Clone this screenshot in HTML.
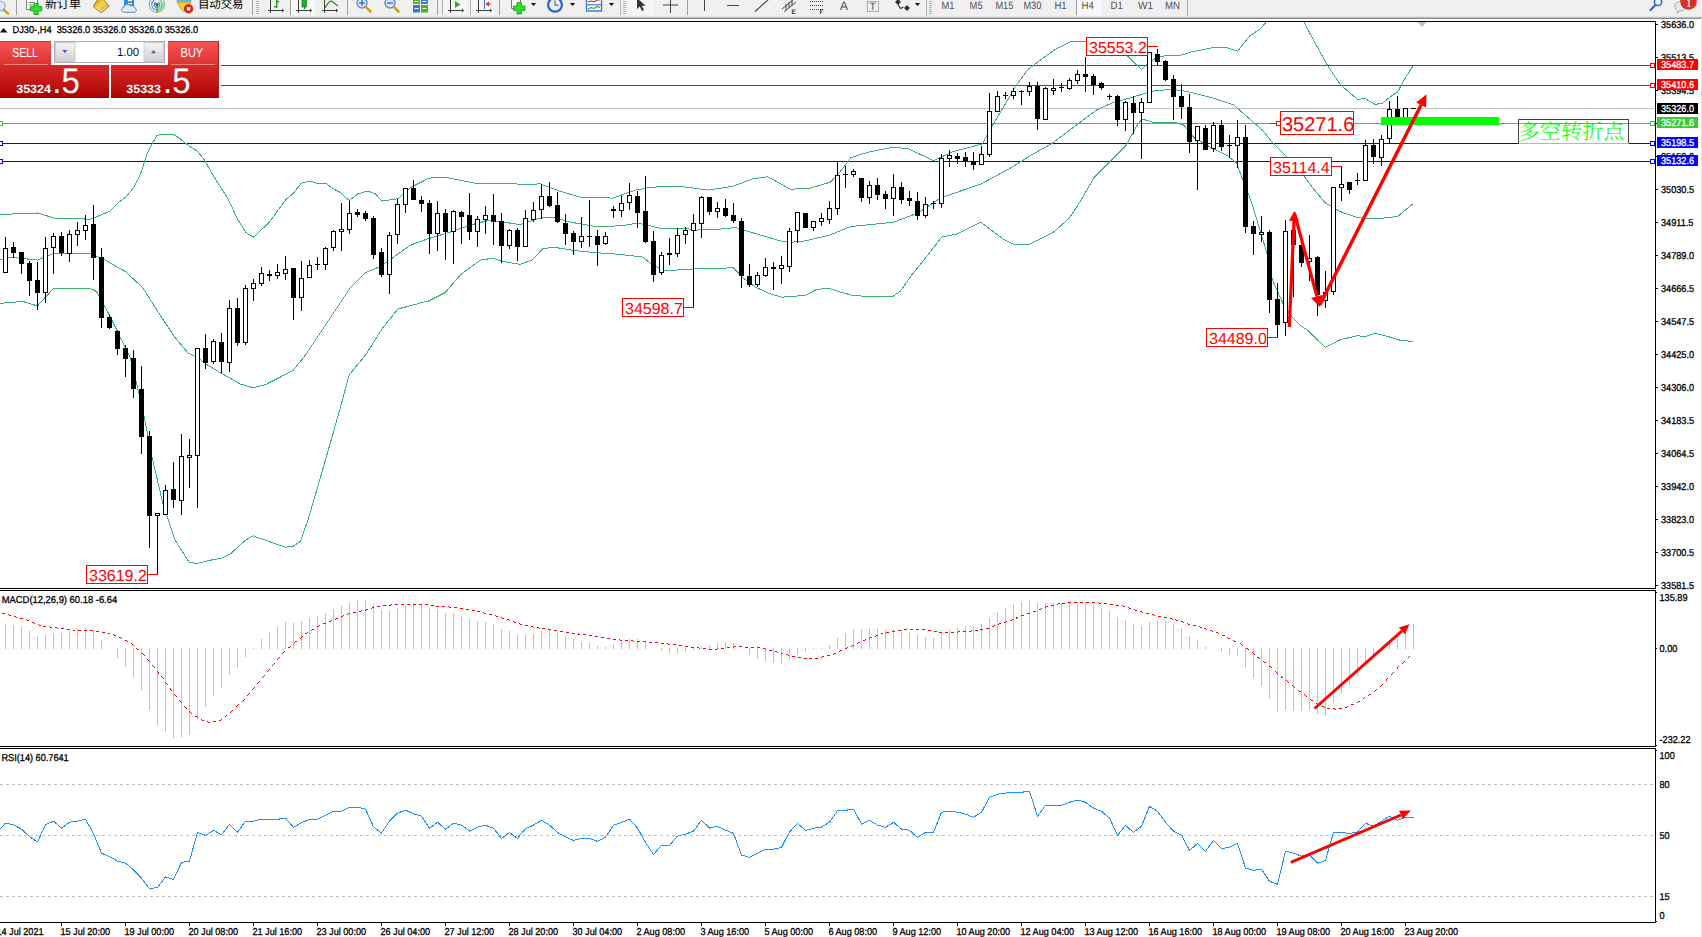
<!DOCTYPE html>
<html><head><meta charset="utf-8"><title>DJ30 H4</title>
<style>
html,body{margin:0;padding:0;background:#fff;}
body{width:1702px;height:937px;overflow:hidden;position:relative;font-family:"Liberation Sans", sans-serif;}
svg{position:absolute;left:0;top:0;}
svg text{font-family:"Liberation Sans", sans-serif;text-rendering:geometricPrecision;}
</style></head><body>
<svg width="1702" height="937" viewBox="0 0 1702 937" shape-rendering="crispEdges">
<defs><clipPath id="cmain"><rect x="0" y="22" width="1655" height="566"/></clipPath></defs>
<rect x="0" y="21" width="1656" height="1" fill="#000"/>
<rect x="1655" y="21" width="1" height="568" fill="#000"/>
<rect x="0" y="588" width="1656" height="1" fill="#000"/>
<rect x="0" y="590" width="1656" height="1" fill="#000"/>
<rect x="1655" y="590" width="1" height="157" fill="#000"/>
<rect x="0" y="746" width="1656" height="1" fill="#000"/>
<rect x="0" y="748" width="1656" height="1" fill="#000"/>
<rect x="1655" y="748" width="1" height="175" fill="#000"/>
<rect x="0" y="922" width="1656" height="1" fill="#000"/>
<rect x="0" y="108" width="1655" height="1" fill="#c0c0c0"/>
<rect x="0" y="65" width="1651" height="1" fill="#ff0000"/>
<rect x="0" y="85" width="1651" height="1" fill="#ff0000"/>
<rect x="0" y="123" width="1651" height="1" fill="#32cd32"/>
<rect x="0" y="143" width="1651" height="1" fill="#0000ff"/>
<rect x="0" y="161" width="1651" height="1" fill="#0000ff"/>
<line x1="0" y1="784.5" x2="1655" y2="784.5" stroke="#c0c0c0" stroke-width="1" stroke-dasharray="3 3"/>
<line x1="0" y1="835.5" x2="1655" y2="835.5" stroke="#c0c0c0" stroke-width="1" stroke-dasharray="3 3"/>
<line x1="0" y1="896.5" x2="1655" y2="896.5" stroke="#c0c0c0" stroke-width="1" stroke-dasharray="3 3"/>
<rect x="5" y="624" width="1" height="25" fill="#c0c0c0"/>
<rect x="13" y="625" width="1" height="24" fill="#c0c0c0"/>
<rect x="21" y="627" width="1" height="22" fill="#c0c0c0"/>
<rect x="29" y="631" width="1" height="18" fill="#c0c0c0"/>
<rect x="37" y="636" width="1" height="13" fill="#c0c0c0"/>
<rect x="45" y="635" width="1" height="14" fill="#c0c0c0"/>
<rect x="53" y="633" width="1" height="16" fill="#c0c0c0"/>
<rect x="61" y="633" width="1" height="16" fill="#c0c0c0"/>
<rect x="69" y="631" width="1" height="18" fill="#c0c0c0"/>
<rect x="77" y="629" width="1" height="20" fill="#c0c0c0"/>
<rect x="85" y="628" width="1" height="21" fill="#c0c0c0"/>
<rect x="93" y="631" width="1" height="18" fill="#c0c0c0"/>
<rect x="101" y="640" width="1" height="9" fill="#c0c0c0"/>
<rect x="117" y="648" width="1" height="10" fill="#c0c0c0"/>
<rect x="125" y="648" width="1" height="19" fill="#c0c0c0"/>
<rect x="133" y="648" width="1" height="29" fill="#c0c0c0"/>
<rect x="141" y="648" width="1" height="42" fill="#c0c0c0"/>
<rect x="149" y="648" width="1" height="62" fill="#c0c0c0"/>
<rect x="157" y="648" width="1" height="77" fill="#c0c0c0"/>
<rect x="165" y="648" width="1" height="84" fill="#c0c0c0"/>
<rect x="173" y="648" width="1" height="90" fill="#c0c0c0"/>
<rect x="181" y="648" width="1" height="89" fill="#c0c0c0"/>
<rect x="189" y="648" width="1" height="87" fill="#c0c0c0"/>
<rect x="197" y="648" width="1" height="71" fill="#c0c0c0"/>
<rect x="205" y="648" width="1" height="59" fill="#c0c0c0"/>
<rect x="213" y="648" width="1" height="48" fill="#c0c0c0"/>
<rect x="221" y="648" width="1" height="40" fill="#c0c0c0"/>
<rect x="229" y="648" width="1" height="27" fill="#c0c0c0"/>
<rect x="237" y="648" width="1" height="20" fill="#c0c0c0"/>
<rect x="245" y="648" width="1" height="9" fill="#c0c0c0"/>
<rect x="253" y="648" width="1" height="1" fill="#c0c0c0"/>
<rect x="261" y="639" width="1" height="10" fill="#c0c0c0"/>
<rect x="269" y="632" width="1" height="17" fill="#c0c0c0"/>
<rect x="277" y="627" width="1" height="22" fill="#c0c0c0"/>
<rect x="285" y="622" width="1" height="27" fill="#c0c0c0"/>
<rect x="293" y="623" width="1" height="26" fill="#c0c0c0"/>
<rect x="301" y="621" width="1" height="28" fill="#c0c0c0"/>
<rect x="309" y="618" width="1" height="31" fill="#c0c0c0"/>
<rect x="317" y="616" width="1" height="33" fill="#c0c0c0"/>
<rect x="325" y="613" width="1" height="36" fill="#c0c0c0"/>
<rect x="333" y="609" width="1" height="40" fill="#c0c0c0"/>
<rect x="341" y="606" width="1" height="43" fill="#c0c0c0"/>
<rect x="349" y="603" width="1" height="46" fill="#c0c0c0"/>
<rect x="357" y="600" width="1" height="49" fill="#c0c0c0"/>
<rect x="365" y="600" width="1" height="49" fill="#c0c0c0"/>
<rect x="373" y="604" width="1" height="45" fill="#c0c0c0"/>
<rect x="381" y="610" width="1" height="39" fill="#c0c0c0"/>
<rect x="389" y="611" width="1" height="38" fill="#c0c0c0"/>
<rect x="397" y="608" width="1" height="41" fill="#c0c0c0"/>
<rect x="405" y="605" width="1" height="44" fill="#c0c0c0"/>
<rect x="413" y="603" width="1" height="46" fill="#c0c0c0"/>
<rect x="421" y="604" width="1" height="45" fill="#c0c0c0"/>
<rect x="429" y="608" width="1" height="41" fill="#c0c0c0"/>
<rect x="437" y="609" width="1" height="40" fill="#c0c0c0"/>
<rect x="445" y="613" width="1" height="36" fill="#c0c0c0"/>
<rect x="453" y="613" width="1" height="36" fill="#c0c0c0"/>
<rect x="461" y="616" width="1" height="33" fill="#c0c0c0"/>
<rect x="469" y="619" width="1" height="30" fill="#c0c0c0"/>
<rect x="477" y="621" width="1" height="28" fill="#c0c0c0"/>
<rect x="485" y="622" width="1" height="27" fill="#c0c0c0"/>
<rect x="493" y="624" width="1" height="25" fill="#c0c0c0"/>
<rect x="501" y="629" width="1" height="20" fill="#c0c0c0"/>
<rect x="509" y="631" width="1" height="18" fill="#c0c0c0"/>
<rect x="517" y="635" width="1" height="14" fill="#c0c0c0"/>
<rect x="525" y="635" width="1" height="14" fill="#c0c0c0"/>
<rect x="533" y="634" width="1" height="15" fill="#c0c0c0"/>
<rect x="541" y="631" width="1" height="18" fill="#c0c0c0"/>
<rect x="549" y="630" width="1" height="19" fill="#c0c0c0"/>
<rect x="557" y="632" width="1" height="17" fill="#c0c0c0"/>
<rect x="565" y="636" width="1" height="13" fill="#c0c0c0"/>
<rect x="573" y="639" width="1" height="10" fill="#c0c0c0"/>
<rect x="581" y="642" width="1" height="7" fill="#c0c0c0"/>
<rect x="589" y="643" width="1" height="6" fill="#c0c0c0"/>
<rect x="597" y="646" width="1" height="3" fill="#c0c0c0"/>
<rect x="605" y="647" width="1" height="2" fill="#c0c0c0"/>
<rect x="613" y="644" width="1" height="5" fill="#c0c0c0"/>
<rect x="621" y="642" width="1" height="7" fill="#c0c0c0"/>
<rect x="629" y="639" width="1" height="10" fill="#c0c0c0"/>
<rect x="637" y="639" width="1" height="10" fill="#c0c0c0"/>
<rect x="645" y="642" width="1" height="7" fill="#c0c0c0"/>
<rect x="661" y="648" width="1" height="3" fill="#c0c0c0"/>
<rect x="669" y="648" width="1" height="5" fill="#c0c0c0"/>
<rect x="677" y="648" width="1" height="5" fill="#c0c0c0"/>
<rect x="685" y="648" width="1" height="4" fill="#c0c0c0"/>
<rect x="693" y="648" width="1" height="2" fill="#c0c0c0"/>
<rect x="701" y="646" width="1" height="3" fill="#c0c0c0"/>
<rect x="709" y="645" width="1" height="4" fill="#c0c0c0"/>
<rect x="717" y="643" width="1" height="6" fill="#c0c0c0"/>
<rect x="725" y="642" width="1" height="7" fill="#c0c0c0"/>
<rect x="733" y="643" width="1" height="6" fill="#c0c0c0"/>
<rect x="749" y="648" width="1" height="7" fill="#c0c0c0"/>
<rect x="757" y="648" width="1" height="11" fill="#c0c0c0"/>
<rect x="765" y="648" width="1" height="13" fill="#c0c0c0"/>
<rect x="773" y="648" width="1" height="15" fill="#c0c0c0"/>
<rect x="781" y="648" width="1" height="16" fill="#c0c0c0"/>
<rect x="789" y="648" width="1" height="12" fill="#c0c0c0"/>
<rect x="797" y="648" width="1" height="7" fill="#c0c0c0"/>
<rect x="805" y="648" width="1" height="4" fill="#c0c0c0"/>
<rect x="813" y="648" width="1" height="1" fill="#c0c0c0"/>
<rect x="821" y="648" width="1" height="1" fill="#c0c0c0"/>
<rect x="829" y="645" width="1" height="4" fill="#c0c0c0"/>
<rect x="837" y="638" width="1" height="11" fill="#c0c0c0"/>
<rect x="845" y="633" width="1" height="16" fill="#c0c0c0"/>
<rect x="853" y="629" width="1" height="20" fill="#c0c0c0"/>
<rect x="861" y="629" width="1" height="20" fill="#c0c0c0"/>
<rect x="869" y="628" width="1" height="21" fill="#c0c0c0"/>
<rect x="877" y="628" width="1" height="21" fill="#c0c0c0"/>
<rect x="885" y="630" width="1" height="19" fill="#c0c0c0"/>
<rect x="893" y="629" width="1" height="20" fill="#c0c0c0"/>
<rect x="901" y="630" width="1" height="19" fill="#c0c0c0"/>
<rect x="909" y="632" width="1" height="17" fill="#c0c0c0"/>
<rect x="917" y="635" width="1" height="14" fill="#c0c0c0"/>
<rect x="925" y="637" width="1" height="12" fill="#c0c0c0"/>
<rect x="933" y="638" width="1" height="11" fill="#c0c0c0"/>
<rect x="941" y="633" width="1" height="16" fill="#c0c0c0"/>
<rect x="949" y="630" width="1" height="19" fill="#c0c0c0"/>
<rect x="957" y="627" width="1" height="22" fill="#c0c0c0"/>
<rect x="965" y="626" width="1" height="23" fill="#c0c0c0"/>
<rect x="973" y="626" width="1" height="23" fill="#c0c0c0"/>
<rect x="981" y="624" width="1" height="25" fill="#c0c0c0"/>
<rect x="989" y="618" width="1" height="31" fill="#c0c0c0"/>
<rect x="997" y="612" width="1" height="37" fill="#c0c0c0"/>
<rect x="1005" y="608" width="1" height="41" fill="#c0c0c0"/>
<rect x="1013" y="604" width="1" height="45" fill="#c0c0c0"/>
<rect x="1021" y="602" width="1" height="47" fill="#c0c0c0"/>
<rect x="1029" y="600" width="1" height="49" fill="#c0c0c0"/>
<rect x="1037" y="603" width="1" height="46" fill="#c0c0c0"/>
<rect x="1045" y="603" width="1" height="46" fill="#c0c0c0"/>
<rect x="1053" y="603" width="1" height="46" fill="#c0c0c0"/>
<rect x="1061" y="603" width="1" height="46" fill="#c0c0c0"/>
<rect x="1069" y="602" width="1" height="47" fill="#c0c0c0"/>
<rect x="1077" y="602" width="1" height="47" fill="#c0c0c0"/>
<rect x="1085" y="602" width="1" height="47" fill="#c0c0c0"/>
<rect x="1093" y="605" width="1" height="44" fill="#c0c0c0"/>
<rect x="1101" y="608" width="1" height="41" fill="#c0c0c0"/>
<rect x="1109" y="611" width="1" height="38" fill="#c0c0c0"/>
<rect x="1117" y="617" width="1" height="32" fill="#c0c0c0"/>
<rect x="1125" y="620" width="1" height="29" fill="#c0c0c0"/>
<rect x="1133" y="624" width="1" height="25" fill="#c0c0c0"/>
<rect x="1141" y="626" width="1" height="23" fill="#c0c0c0"/>
<rect x="1149" y="622" width="1" height="27" fill="#c0c0c0"/>
<rect x="1157" y="620" width="1" height="29" fill="#c0c0c0"/>
<rect x="1165" y="621" width="1" height="28" fill="#c0c0c0"/>
<rect x="1173" y="624" width="1" height="25" fill="#c0c0c0"/>
<rect x="1181" y="628" width="1" height="21" fill="#c0c0c0"/>
<rect x="1189" y="636" width="1" height="13" fill="#c0c0c0"/>
<rect x="1197" y="640" width="1" height="9" fill="#c0c0c0"/>
<rect x="1205" y="647" width="1" height="2" fill="#c0c0c0"/>
<rect x="1221" y="648" width="1" height="4" fill="#c0c0c0"/>
<rect x="1229" y="648" width="1" height="7" fill="#c0c0c0"/>
<rect x="1237" y="648" width="1" height="8" fill="#c0c0c0"/>
<rect x="1245" y="648" width="1" height="20" fill="#c0c0c0"/>
<rect x="1253" y="648" width="1" height="30" fill="#c0c0c0"/>
<rect x="1261" y="648" width="1" height="38" fill="#c0c0c0"/>
<rect x="1269" y="648" width="1" height="51" fill="#c0c0c0"/>
<rect x="1277" y="648" width="1" height="64" fill="#c0c0c0"/>
<rect x="1285" y="648" width="1" height="62" fill="#c0c0c0"/>
<rect x="1293" y="648" width="1" height="63" fill="#c0c0c0"/>
<rect x="1301" y="648" width="1" height="63" fill="#c0c0c0"/>
<rect x="1309" y="648" width="1" height="62" fill="#c0c0c0"/>
<rect x="1317" y="648" width="1" height="66" fill="#c0c0c0"/>
<rect x="1325" y="648" width="1" height="68" fill="#c0c0c0"/>
<rect x="1333" y="648" width="1" height="55" fill="#c0c0c0"/>
<rect x="1341" y="648" width="1" height="45" fill="#c0c0c0"/>
<rect x="1349" y="648" width="1" height="37" fill="#c0c0c0"/>
<rect x="1357" y="648" width="1" height="28" fill="#c0c0c0"/>
<rect x="1365" y="648" width="1" height="16" fill="#c0c0c0"/>
<rect x="1373" y="648" width="1" height="8" fill="#c0c0c0"/>
<rect x="1389" y="640" width="1" height="9" fill="#c0c0c0"/>
<rect x="1397" y="633" width="1" height="16" fill="#c0c0c0"/>
<rect x="1405" y="628" width="1" height="21" fill="#c0c0c0"/>
<rect x="1413" y="624" width="1" height="25" fill="#c0c0c0"/>
<g clip-path="url(#cmain)">
<polyline points="0.0,214.5 37.5,213.0 57.6,219.0 82.6,218.8 90.0,219.6 109.6,211.3 118.6,202.3 126.1,197.0 134.4,186.5 141.9,170.7 144.9,160.2 147.9,151.9 151.7,144.4 156.9,135.5 162.2,134.4 173.5,134.4 180.2,138.8 189.3,146.3 197.5,151.1 205.1,160.9 210.3,170.7 216.3,180.5 228.4,199.3 237.4,218.8 245.7,232.4 253.5,237.2 269.0,222.6 285.5,200.0 293.1,193.6 301.3,183.2 309.6,181.2 317.1,183.2 326.1,183.5 333.7,189.0 340.4,192.5 346.0,197.8 349.4,200.5 357.9,193.8 367.9,191.0 375.4,193.8 381.7,201.0 398.0,198.8 410.5,187.5 423.0,181.3 427.5,178.8 435.0,177.1 445.0,177.1 477.6,183.8 500.1,183.1 527.6,184.6 540.1,183.8 560.2,191.3 580.2,197.1 612.7,198.1 622.7,194.6 635.3,190.1 652.8,187.1 680.3,186.3 707.8,190.1 732.9,186.3 752.9,178.8 767.9,176.8 790.4,189.3 810.5,188.1 830.5,182.1 840.5,171.3 851.0,157.6 868.5,152.1 893.6,147.1 908.6,148.9 933.6,160.7 941.1,157.1 953.6,151.4 971.2,146.9 982.4,143.9 991.2,127.6 1006.2,102.6 1016.2,85.1 1028.7,68.8 1043.7,57.5 1056.3,48.8 1071.3,41.3 1086.3,41.3 1111.3,42.0 1126.3,55.0 1141.4,69.5 1148.9,62.5 1158.9,56.3 1181.4,55.0 1191.4,52.0 1211.4,48.0 1226.5,47.5 1237.7,51.3 1240.0,48.0 1250.0,35.5 1260.0,29.3 1266.3,21.8 1275.0,13.0 1285.1,8.0 1295.1,13.0 1303.8,21.8 1315.1,43.0 1327.6,65.6 1340.1,84.3 1350.1,93.1 1357.6,99.3 1365.1,98.6 1375.2,104.4 1382.7,103.1 1390.2,96.8 1397.7,91.8 1405.2,78.1 1413.2,65.6" fill="none" stroke="#3cb371" stroke-width="1"/>
<polyline points="0.0,260.1 10.0,257.1 37.5,260.1 52.6,253.8 90.1,253.3 105.1,260.1 125.1,271.4 142.7,287.6 160.2,315.2 175.2,337.7 187.7,352.7 197.7,357.7 207.7,365.2 222.8,374.0 240.3,384.0 252.8,387.7 265.3,384.7 292.8,370.7 305.4,355.2 325.4,325.2 350.4,287.6 365.4,272.6 380.4,266.4 393.0,257.6 410.5,245.1 423.0,240.6 427.5,238.9 452.5,231.4 470.1,225.1 490.1,220.1 520.1,224.6 540.1,218.1 552.7,217.1 570.2,222.1 595.2,226.4 620.2,225.9 637.8,223.1 647.8,225.1 660.3,228.4 685.3,228.4 695.3,230.1 720.4,229.1 735.4,227.6 745.4,230.6 780.4,240.9 791.3,242.3 804.4,241.0 828.9,235.3 851.0,226.5 893.6,222.2 918.6,212.7 941.1,197.7 981.2,183.9 1011.2,167.7 1031.2,155.1 1051.3,143.9 1076.3,125.1 1096.3,110.1 1111.3,103.3 1131.3,97.6 1151.4,91.3 1171.4,89.3 1186.4,91.3 1211.4,97.6 1234.0,105.1 1240.0,110.6 1262.5,130.1 1272.5,142.6 1285.1,155.2 1297.6,167.7 1312.6,187.7 1325.1,202.7 1340.1,211.5 1357.6,217.7 1372.7,219.0 1382.7,218.2 1397.7,216.5 1405.2,210.2 1412.7,204.0" fill="none" stroke="#3cb371" stroke-width="1"/>
<polyline points="0.0,303.4 22.5,301.4 37.5,305.9 53.8,288.1 90.1,288.4 96.4,291.4 110.1,316.4 130.2,357.7 135.2,377.5 143.9,415.1 152.7,460.1 162.7,502.7 175.2,540.2 189.0,562.2 197.7,563.5 207.7,560.7 221.5,558.2 230.3,554.0 245.3,540.2 253.3,535.9 265.3,540.2 285.3,547.2 292.8,546.5 300.4,541.5 307.9,520.2 320.4,477.6 330.4,442.6 340.4,407.5 349.2,375.0 365.4,355.2 382.9,327.7 398.0,308.9 413.0,305.1 423.0,302.1 427.5,301.5 445.0,292.7 460.0,275.2 480.1,260.2 492.6,258.2 502.6,261.4 520.1,264.4 532.6,259.7 542.6,248.9 552.7,247.1 575.2,250.6 595.2,252.6 620.2,254.4 642.8,257.1 652.8,265.2 665.3,270.7 695.3,268.9 720.4,268.9 732.9,267.2 742.9,277.7 755.4,287.2 770.4,293.9 781.7,297.2 805.4,295.3 815.7,289.9 827.9,288.0 840.2,292.1 852.4,295.3 866.5,296.5 892.8,296.5 900.3,291.2 911.6,275.2 926.7,256.4 941.7,237.0 956.7,234.2 980.8,222.2 992.5,231.0 1003.7,239.5 1014.1,244.6 1029.1,244.6 1052.6,232.9 1069.5,217.9 1081.2,200.0 1093.8,177.7 1111.3,160.2 1126.3,145.1 1136.4,126.4 1141.9,118.9 1153.9,122.6 1175.1,122.6 1183.9,125.1 1193.9,137.6 1211.4,147.6 1226.5,155.1 1236.5,162.7 1240.0,172.5 1250.0,197.6 1260.0,230.1 1267.5,255.1 1272.5,280.2 1282.5,302.7 1292.6,317.7 1300.1,325.2 1307.6,330.2 1315.1,337.7 1325.6,347.3 1340.1,339.7 1357.6,335.7 1365.1,336.5 1375.2,333.2 1385.2,335.7 1400.2,340.2 1412.7,341.5" fill="none" stroke="#3cb371" stroke-width="1"/>
</g>
<rect x="5" y="237" width="1" height="36" fill="#000"/>
<rect x="3" y="248" width="5" height="25" fill="#000"/>
<rect x="4" y="249" width="3" height="23" fill="#fff"/>
<rect x="13" y="242" width="1" height="16" fill="#000"/>
<rect x="11" y="247" width="5" height="6" fill="#000"/>
<rect x="21" y="252" width="1" height="22" fill="#000"/>
<rect x="19" y="252" width="5" height="12" fill="#000"/>
<rect x="29" y="261" width="1" height="35" fill="#000"/>
<rect x="27" y="263" width="5" height="18" fill="#000"/>
<rect x="37" y="262" width="1" height="48" fill="#000"/>
<rect x="35" y="280" width="5" height="13" fill="#000"/>
<rect x="45" y="237" width="1" height="66" fill="#000"/>
<rect x="43" y="248" width="5" height="45" fill="#000"/>
<rect x="44" y="249" width="3" height="43" fill="#fff"/>
<rect x="53" y="233" width="1" height="41" fill="#000"/>
<rect x="51" y="236" width="5" height="12" fill="#000"/>
<rect x="52" y="237" width="3" height="10" fill="#fff"/>
<rect x="61" y="232" width="1" height="24" fill="#000"/>
<rect x="59" y="236" width="5" height="17" fill="#000"/>
<rect x="69" y="230" width="1" height="32" fill="#000"/>
<rect x="67" y="234" width="5" height="20" fill="#000"/>
<rect x="68" y="235" width="3" height="18" fill="#fff"/>
<rect x="77" y="222" width="1" height="24" fill="#000"/>
<rect x="75" y="230" width="5" height="5" fill="#000"/>
<rect x="76" y="231" width="3" height="3" fill="#fff"/>
<rect x="85" y="215" width="1" height="25" fill="#000"/>
<rect x="83" y="225" width="5" height="6" fill="#000"/>
<rect x="84" y="226" width="3" height="4" fill="#fff"/>
<rect x="93" y="205" width="1" height="75" fill="#000"/>
<rect x="91" y="224" width="5" height="34" fill="#000"/>
<rect x="101" y="248" width="1" height="80" fill="#000"/>
<rect x="99" y="257" width="5" height="61" fill="#000"/>
<rect x="109" y="315" width="1" height="14" fill="#000"/>
<rect x="107" y="317" width="5" height="11" fill="#000"/>
<rect x="117" y="330" width="1" height="25" fill="#000"/>
<rect x="115" y="331" width="5" height="18" fill="#000"/>
<rect x="125" y="345" width="1" height="32" fill="#000"/>
<rect x="123" y="348" width="5" height="11" fill="#000"/>
<rect x="133" y="350" width="1" height="48" fill="#000"/>
<rect x="131" y="358" width="5" height="31" fill="#000"/>
<rect x="141" y="366" width="1" height="88" fill="#000"/>
<rect x="139" y="389" width="5" height="48" fill="#000"/>
<rect x="149" y="431" width="1" height="117" fill="#000"/>
<rect x="147" y="436" width="5" height="80" fill="#000"/>
<rect x="157" y="513" width="1" height="61" fill="#000"/>
<rect x="155" y="513" width="5" height="3" fill="#000"/>
<rect x="156" y="514" width="3" height="1" fill="#fff"/>
<rect x="165" y="485" width="1" height="30" fill="#000"/>
<rect x="163" y="490" width="5" height="25" fill="#000"/>
<rect x="164" y="491" width="3" height="23" fill="#fff"/>
<rect x="173" y="462" width="1" height="46" fill="#000"/>
<rect x="171" y="489" width="5" height="11" fill="#000"/>
<rect x="181" y="434" width="1" height="81" fill="#000"/>
<rect x="179" y="456" width="5" height="45" fill="#000"/>
<rect x="180" y="457" width="3" height="43" fill="#fff"/>
<rect x="189" y="439" width="1" height="49" fill="#000"/>
<rect x="187" y="455" width="5" height="3" fill="#000"/>
<rect x="188" y="456" width="3" height="1" fill="#fff"/>
<rect x="197" y="348" width="1" height="160" fill="#000"/>
<rect x="195" y="348" width="5" height="108" fill="#000"/>
<rect x="196" y="349" width="3" height="106" fill="#fff"/>
<rect x="205" y="334" width="1" height="35" fill="#000"/>
<rect x="203" y="348" width="5" height="15" fill="#000"/>
<rect x="213" y="339" width="1" height="25" fill="#000"/>
<rect x="211" y="341" width="5" height="21" fill="#000"/>
<rect x="212" y="342" width="3" height="19" fill="#fff"/>
<rect x="221" y="333" width="1" height="40" fill="#000"/>
<rect x="219" y="342" width="5" height="20" fill="#000"/>
<rect x="229" y="300" width="1" height="72" fill="#000"/>
<rect x="227" y="308" width="5" height="55" fill="#000"/>
<rect x="228" y="309" width="3" height="53" fill="#fff"/>
<rect x="237" y="298" width="1" height="48" fill="#000"/>
<rect x="235" y="308" width="5" height="35" fill="#000"/>
<rect x="245" y="285" width="1" height="60" fill="#000"/>
<rect x="243" y="288" width="5" height="55" fill="#000"/>
<rect x="244" y="289" width="3" height="53" fill="#fff"/>
<rect x="253" y="279" width="1" height="22" fill="#000"/>
<rect x="251" y="283" width="5" height="6" fill="#000"/>
<rect x="252" y="284" width="3" height="4" fill="#fff"/>
<rect x="261" y="267" width="1" height="19" fill="#000"/>
<rect x="259" y="273" width="5" height="11" fill="#000"/>
<rect x="260" y="274" width="3" height="9" fill="#fff"/>
<rect x="269" y="270" width="1" height="11" fill="#000"/>
<rect x="267" y="274" width="5" height="2" fill="#000"/>
<rect x="277" y="264" width="1" height="15" fill="#000"/>
<rect x="275" y="272" width="5" height="4" fill="#000"/>
<rect x="276" y="273" width="3" height="2" fill="#fff"/>
<rect x="285" y="256" width="1" height="24" fill="#000"/>
<rect x="283" y="269" width="5" height="5" fill="#000"/>
<rect x="284" y="270" width="3" height="3" fill="#fff"/>
<rect x="293" y="268" width="1" height="52" fill="#000"/>
<rect x="291" y="268" width="5" height="30" fill="#000"/>
<rect x="301" y="261" width="1" height="50" fill="#000"/>
<rect x="299" y="278" width="5" height="20" fill="#000"/>
<rect x="300" y="279" width="3" height="18" fill="#fff"/>
<rect x="309" y="260" width="1" height="18" fill="#000"/>
<rect x="307" y="265" width="5" height="13" fill="#000"/>
<rect x="308" y="266" width="3" height="11" fill="#fff"/>
<rect x="317" y="257" width="1" height="13" fill="#000"/>
<rect x="315" y="264" width="5" height="1" fill="#000"/>
<rect x="325" y="247" width="1" height="23" fill="#000"/>
<rect x="323" y="248" width="5" height="17" fill="#000"/>
<rect x="324" y="249" width="3" height="15" fill="#fff"/>
<rect x="333" y="230" width="1" height="21" fill="#000"/>
<rect x="331" y="231" width="5" height="17" fill="#000"/>
<rect x="332" y="232" width="3" height="15" fill="#fff"/>
<rect x="341" y="203" width="1" height="48" fill="#000"/>
<rect x="339" y="229" width="5" height="3" fill="#000"/>
<rect x="340" y="230" width="3" height="1" fill="#fff"/>
<rect x="349" y="201" width="1" height="33" fill="#000"/>
<rect x="347" y="213" width="5" height="17" fill="#000"/>
<rect x="348" y="214" width="3" height="15" fill="#fff"/>
<rect x="357" y="209" width="1" height="8" fill="#000"/>
<rect x="355" y="212" width="5" height="3" fill="#000"/>
<rect x="365" y="211" width="1" height="10" fill="#000"/>
<rect x="363" y="213" width="5" height="6" fill="#000"/>
<rect x="373" y="216" width="1" height="43" fill="#000"/>
<rect x="371" y="218" width="5" height="37" fill="#000"/>
<rect x="381" y="248" width="1" height="29" fill="#000"/>
<rect x="379" y="252" width="5" height="23" fill="#000"/>
<rect x="389" y="232" width="1" height="62" fill="#000"/>
<rect x="387" y="235" width="5" height="40" fill="#000"/>
<rect x="388" y="236" width="3" height="38" fill="#fff"/>
<rect x="397" y="199" width="1" height="45" fill="#000"/>
<rect x="395" y="204" width="5" height="31" fill="#000"/>
<rect x="396" y="205" width="3" height="29" fill="#fff"/>
<rect x="405" y="188" width="1" height="25" fill="#000"/>
<rect x="403" y="188" width="5" height="17" fill="#000"/>
<rect x="404" y="189" width="3" height="15" fill="#fff"/>
<rect x="413" y="180" width="1" height="20" fill="#000"/>
<rect x="411" y="188" width="5" height="12" fill="#000"/>
<rect x="421" y="196" width="1" height="16" fill="#000"/>
<rect x="419" y="200" width="5" height="4" fill="#000"/>
<rect x="429" y="200" width="1" height="54" fill="#000"/>
<rect x="427" y="203" width="5" height="31" fill="#000"/>
<rect x="437" y="201" width="1" height="50" fill="#000"/>
<rect x="435" y="213" width="5" height="21" fill="#000"/>
<rect x="436" y="214" width="3" height="19" fill="#fff"/>
<rect x="445" y="209" width="1" height="51" fill="#000"/>
<rect x="443" y="213" width="5" height="19" fill="#000"/>
<rect x="453" y="210" width="1" height="54" fill="#000"/>
<rect x="451" y="211" width="5" height="21" fill="#000"/>
<rect x="452" y="212" width="3" height="19" fill="#fff"/>
<rect x="461" y="211" width="1" height="33" fill="#000"/>
<rect x="459" y="212" width="5" height="5" fill="#000"/>
<rect x="469" y="193" width="1" height="47" fill="#000"/>
<rect x="467" y="215" width="5" height="17" fill="#000"/>
<rect x="477" y="216" width="1" height="31" fill="#000"/>
<rect x="475" y="219" width="5" height="13" fill="#000"/>
<rect x="476" y="220" width="3" height="11" fill="#fff"/>
<rect x="485" y="206" width="1" height="28" fill="#000"/>
<rect x="483" y="215" width="5" height="5" fill="#000"/>
<rect x="484" y="216" width="3" height="3" fill="#fff"/>
<rect x="493" y="194" width="1" height="51" fill="#000"/>
<rect x="491" y="215" width="5" height="7" fill="#000"/>
<rect x="501" y="213" width="1" height="50" fill="#000"/>
<rect x="499" y="221" width="5" height="25" fill="#000"/>
<rect x="509" y="229" width="1" height="20" fill="#000"/>
<rect x="507" y="230" width="5" height="16" fill="#000"/>
<rect x="508" y="231" width="3" height="14" fill="#fff"/>
<rect x="517" y="228" width="1" height="33" fill="#000"/>
<rect x="515" y="230" width="5" height="17" fill="#000"/>
<rect x="525" y="210" width="1" height="37" fill="#000"/>
<rect x="523" y="218" width="5" height="29" fill="#000"/>
<rect x="524" y="219" width="3" height="27" fill="#fff"/>
<rect x="533" y="202" width="1" height="20" fill="#000"/>
<rect x="531" y="210" width="5" height="10" fill="#000"/>
<rect x="532" y="211" width="3" height="8" fill="#fff"/>
<rect x="541" y="184" width="1" height="35" fill="#000"/>
<rect x="539" y="196" width="5" height="14" fill="#000"/>
<rect x="540" y="197" width="3" height="12" fill="#fff"/>
<rect x="549" y="182" width="1" height="25" fill="#000"/>
<rect x="547" y="196" width="5" height="10" fill="#000"/>
<rect x="557" y="192" width="1" height="31" fill="#000"/>
<rect x="555" y="205" width="5" height="17" fill="#000"/>
<rect x="565" y="214" width="1" height="31" fill="#000"/>
<rect x="563" y="223" width="5" height="11" fill="#000"/>
<rect x="573" y="231" width="1" height="24" fill="#000"/>
<rect x="571" y="233" width="5" height="9" fill="#000"/>
<rect x="581" y="217" width="1" height="31" fill="#000"/>
<rect x="579" y="236" width="5" height="6" fill="#000"/>
<rect x="580" y="237" width="3" height="4" fill="#fff"/>
<rect x="589" y="200" width="1" height="47" fill="#000"/>
<rect x="587" y="236" width="5" height="1" fill="#000"/>
<rect x="597" y="230" width="1" height="36" fill="#000"/>
<rect x="595" y="236" width="5" height="9" fill="#000"/>
<rect x="605" y="232" width="1" height="13" fill="#000"/>
<rect x="603" y="236" width="5" height="8" fill="#000"/>
<rect x="604" y="237" width="3" height="6" fill="#fff"/>
<rect x="613" y="206" width="1" height="12" fill="#000"/>
<rect x="611" y="209" width="5" height="2" fill="#000"/>
<rect x="621" y="196" width="1" height="21" fill="#000"/>
<rect x="619" y="203" width="5" height="8" fill="#000"/>
<rect x="620" y="204" width="3" height="6" fill="#fff"/>
<rect x="629" y="183" width="1" height="27" fill="#000"/>
<rect x="627" y="195" width="5" height="8" fill="#000"/>
<rect x="628" y="196" width="3" height="6" fill="#fff"/>
<rect x="637" y="191" width="1" height="37" fill="#000"/>
<rect x="635" y="196" width="5" height="17" fill="#000"/>
<rect x="645" y="176" width="1" height="67" fill="#000"/>
<rect x="643" y="211" width="5" height="31" fill="#000"/>
<rect x="653" y="231" width="1" height="51" fill="#000"/>
<rect x="651" y="241" width="5" height="34" fill="#000"/>
<rect x="661" y="252" width="1" height="23" fill="#000"/>
<rect x="659" y="255" width="5" height="18" fill="#000"/>
<rect x="660" y="256" width="3" height="16" fill="#fff"/>
<rect x="669" y="238" width="1" height="27" fill="#000"/>
<rect x="667" y="253" width="5" height="2" fill="#000"/>
<rect x="677" y="228" width="1" height="29" fill="#000"/>
<rect x="675" y="235" width="5" height="19" fill="#000"/>
<rect x="676" y="236" width="3" height="17" fill="#fff"/>
<rect x="685" y="227" width="1" height="17" fill="#000"/>
<rect x="683" y="230" width="5" height="5" fill="#000"/>
<rect x="684" y="231" width="3" height="3" fill="#fff"/>
<rect x="693" y="214" width="1" height="93" fill="#000"/>
<rect x="691" y="223" width="5" height="8" fill="#000"/>
<rect x="692" y="224" width="3" height="6" fill="#fff"/>
<rect x="701" y="196" width="1" height="42" fill="#000"/>
<rect x="699" y="197" width="5" height="27" fill="#000"/>
<rect x="700" y="198" width="3" height="25" fill="#fff"/>
<rect x="709" y="197" width="1" height="18" fill="#000"/>
<rect x="707" y="197" width="5" height="15" fill="#000"/>
<rect x="717" y="202" width="1" height="16" fill="#000"/>
<rect x="715" y="208" width="5" height="4" fill="#000"/>
<rect x="716" y="209" width="3" height="2" fill="#fff"/>
<rect x="725" y="199" width="1" height="18" fill="#000"/>
<rect x="723" y="208" width="5" height="8" fill="#000"/>
<rect x="733" y="203" width="1" height="20" fill="#000"/>
<rect x="731" y="215" width="5" height="6" fill="#000"/>
<rect x="741" y="218" width="1" height="70" fill="#000"/>
<rect x="739" y="221" width="5" height="55" fill="#000"/>
<rect x="749" y="264" width="1" height="23" fill="#000"/>
<rect x="747" y="276" width="5" height="9" fill="#000"/>
<rect x="757" y="272" width="1" height="15" fill="#000"/>
<rect x="755" y="275" width="5" height="10" fill="#000"/>
<rect x="756" y="276" width="3" height="8" fill="#fff"/>
<rect x="765" y="258" width="1" height="19" fill="#000"/>
<rect x="763" y="267" width="5" height="9" fill="#000"/>
<rect x="764" y="268" width="3" height="7" fill="#fff"/>
<rect x="773" y="262" width="1" height="28" fill="#000"/>
<rect x="771" y="267" width="5" height="2" fill="#000"/>
<rect x="781" y="256" width="1" height="28" fill="#000"/>
<rect x="779" y="265" width="5" height="4" fill="#000"/>
<rect x="780" y="266" width="3" height="2" fill="#fff"/>
<rect x="789" y="228" width="1" height="44" fill="#000"/>
<rect x="787" y="231" width="5" height="36" fill="#000"/>
<rect x="788" y="232" width="3" height="34" fill="#fff"/>
<rect x="797" y="212" width="1" height="31" fill="#000"/>
<rect x="795" y="212" width="5" height="19" fill="#000"/>
<rect x="796" y="213" width="3" height="17" fill="#fff"/>
<rect x="805" y="213" width="1" height="15" fill="#000"/>
<rect x="803" y="213" width="5" height="15" fill="#000"/>
<rect x="813" y="221" width="1" height="10" fill="#000"/>
<rect x="811" y="221" width="5" height="7" fill="#000"/>
<rect x="812" y="222" width="3" height="5" fill="#fff"/>
<rect x="821" y="213" width="1" height="13" fill="#000"/>
<rect x="819" y="218" width="5" height="4" fill="#000"/>
<rect x="820" y="219" width="3" height="2" fill="#fff"/>
<rect x="829" y="201" width="1" height="23" fill="#000"/>
<rect x="827" y="208" width="5" height="12" fill="#000"/>
<rect x="828" y="209" width="3" height="10" fill="#fff"/>
<rect x="837" y="161" width="1" height="54" fill="#000"/>
<rect x="835" y="175" width="5" height="34" fill="#000"/>
<rect x="836" y="176" width="3" height="32" fill="#fff"/>
<rect x="845" y="166" width="1" height="22" fill="#000"/>
<rect x="843" y="174" width="5" height="1" fill="#000"/>
<rect x="853" y="169" width="1" height="8" fill="#000"/>
<rect x="851" y="171" width="5" height="4" fill="#000"/>
<rect x="852" y="172" width="3" height="2" fill="#fff"/>
<rect x="861" y="178" width="1" height="24" fill="#000"/>
<rect x="859" y="178" width="5" height="20" fill="#000"/>
<rect x="869" y="181" width="1" height="23" fill="#000"/>
<rect x="867" y="185" width="5" height="13" fill="#000"/>
<rect x="868" y="186" width="3" height="11" fill="#fff"/>
<rect x="877" y="178" width="1" height="22" fill="#000"/>
<rect x="875" y="185" width="5" height="10" fill="#000"/>
<rect x="885" y="191" width="1" height="18" fill="#000"/>
<rect x="883" y="194" width="5" height="5" fill="#000"/>
<rect x="893" y="174" width="1" height="42" fill="#000"/>
<rect x="891" y="187" width="5" height="12" fill="#000"/>
<rect x="892" y="188" width="3" height="10" fill="#fff"/>
<rect x="901" y="182" width="1" height="22" fill="#000"/>
<rect x="899" y="187" width="5" height="13" fill="#000"/>
<rect x="909" y="191" width="1" height="15" fill="#000"/>
<rect x="907" y="198" width="5" height="3" fill="#000"/>
<rect x="917" y="192" width="1" height="28" fill="#000"/>
<rect x="915" y="201" width="5" height="15" fill="#000"/>
<rect x="925" y="197" width="1" height="21" fill="#000"/>
<rect x="923" y="204" width="5" height="12" fill="#000"/>
<rect x="924" y="205" width="3" height="10" fill="#fff"/>
<rect x="933" y="201" width="1" height="8" fill="#000"/>
<rect x="931" y="203" width="5" height="1" fill="#000"/>
<rect x="941" y="154" width="1" height="54" fill="#000"/>
<rect x="939" y="158" width="5" height="46" fill="#000"/>
<rect x="940" y="159" width="3" height="44" fill="#fff"/>
<rect x="949" y="150" width="1" height="17" fill="#000"/>
<rect x="947" y="155" width="5" height="4" fill="#000"/>
<rect x="948" y="156" width="3" height="2" fill="#fff"/>
<rect x="957" y="153" width="1" height="11" fill="#000"/>
<rect x="955" y="156" width="5" height="3" fill="#000"/>
<rect x="965" y="152" width="1" height="15" fill="#000"/>
<rect x="963" y="157" width="5" height="4" fill="#000"/>
<rect x="973" y="152" width="1" height="18" fill="#000"/>
<rect x="971" y="161" width="5" height="4" fill="#000"/>
<rect x="981" y="146" width="1" height="19" fill="#000"/>
<rect x="979" y="154" width="5" height="11" fill="#000"/>
<rect x="980" y="155" width="3" height="9" fill="#fff"/>
<rect x="989" y="93" width="1" height="64" fill="#000"/>
<rect x="987" y="111" width="5" height="44" fill="#000"/>
<rect x="988" y="112" width="3" height="42" fill="#fff"/>
<rect x="997" y="91" width="1" height="21" fill="#000"/>
<rect x="995" y="96" width="5" height="16" fill="#000"/>
<rect x="996" y="97" width="3" height="14" fill="#fff"/>
<rect x="1005" y="92" width="1" height="7" fill="#000"/>
<rect x="1003" y="95" width="5" height="1" fill="#000"/>
<rect x="1013" y="88" width="1" height="11" fill="#000"/>
<rect x="1011" y="91" width="5" height="5" fill="#000"/>
<rect x="1012" y="92" width="3" height="3" fill="#fff"/>
<rect x="1021" y="90" width="1" height="15" fill="#000"/>
<rect x="1019" y="91" width="5" height="1" fill="#000"/>
<rect x="1029" y="82" width="1" height="14" fill="#000"/>
<rect x="1027" y="86" width="5" height="6" fill="#000"/>
<rect x="1028" y="87" width="3" height="4" fill="#fff"/>
<rect x="1037" y="82" width="1" height="48" fill="#000"/>
<rect x="1035" y="86" width="5" height="33" fill="#000"/>
<rect x="1045" y="87" width="1" height="33" fill="#000"/>
<rect x="1043" y="88" width="5" height="32" fill="#000"/>
<rect x="1044" y="89" width="3" height="30" fill="#fff"/>
<rect x="1053" y="79" width="1" height="16" fill="#000"/>
<rect x="1051" y="88" width="5" height="3" fill="#000"/>
<rect x="1052" y="89" width="3" height="1" fill="#fff"/>
<rect x="1061" y="83" width="1" height="9" fill="#000"/>
<rect x="1059" y="87" width="5" height="1" fill="#000"/>
<rect x="1069" y="78" width="1" height="12" fill="#000"/>
<rect x="1067" y="80" width="5" height="9" fill="#000"/>
<rect x="1068" y="81" width="3" height="7" fill="#fff"/>
<rect x="1077" y="70" width="1" height="14" fill="#000"/>
<rect x="1075" y="74" width="5" height="7" fill="#000"/>
<rect x="1076" y="75" width="3" height="5" fill="#fff"/>
<rect x="1085" y="57" width="1" height="35" fill="#000"/>
<rect x="1083" y="74" width="5" height="3" fill="#000"/>
<rect x="1093" y="74" width="1" height="21" fill="#000"/>
<rect x="1091" y="76" width="5" height="9" fill="#000"/>
<rect x="1101" y="82" width="1" height="8" fill="#000"/>
<rect x="1099" y="83" width="5" height="5" fill="#000"/>
<rect x="1109" y="94" width="1" height="6" fill="#000"/>
<rect x="1107" y="96" width="5" height="1" fill="#000"/>
<rect x="1117" y="95" width="1" height="31" fill="#000"/>
<rect x="1115" y="96" width="5" height="24" fill="#000"/>
<rect x="1125" y="101" width="1" height="30" fill="#000"/>
<rect x="1123" y="102" width="5" height="18" fill="#000"/>
<rect x="1124" y="103" width="3" height="16" fill="#fff"/>
<rect x="1133" y="96" width="1" height="38" fill="#000"/>
<rect x="1131" y="103" width="5" height="10" fill="#000"/>
<rect x="1141" y="98" width="1" height="61" fill="#000"/>
<rect x="1139" y="102" width="5" height="11" fill="#000"/>
<rect x="1140" y="103" width="3" height="9" fill="#fff"/>
<rect x="1149" y="52" width="1" height="51" fill="#000"/>
<rect x="1147" y="52" width="5" height="51" fill="#000"/>
<rect x="1148" y="53" width="3" height="49" fill="#fff"/>
<rect x="1157" y="49" width="1" height="16" fill="#000"/>
<rect x="1155" y="54" width="5" height="8" fill="#000"/>
<rect x="1165" y="60" width="1" height="21" fill="#000"/>
<rect x="1163" y="61" width="5" height="19" fill="#000"/>
<rect x="1173" y="75" width="1" height="45" fill="#000"/>
<rect x="1171" y="79" width="5" height="18" fill="#000"/>
<rect x="1181" y="84" width="1" height="35" fill="#000"/>
<rect x="1179" y="96" width="5" height="11" fill="#000"/>
<rect x="1189" y="94" width="1" height="59" fill="#000"/>
<rect x="1187" y="107" width="5" height="35" fill="#000"/>
<rect x="1197" y="126" width="1" height="64" fill="#000"/>
<rect x="1195" y="126" width="5" height="15" fill="#000"/>
<rect x="1196" y="127" width="3" height="13" fill="#fff"/>
<rect x="1205" y="125" width="1" height="25" fill="#000"/>
<rect x="1203" y="128" width="5" height="22" fill="#000"/>
<rect x="1213" y="122" width="1" height="30" fill="#000"/>
<rect x="1211" y="125" width="5" height="24" fill="#000"/>
<rect x="1212" y="126" width="3" height="22" fill="#fff"/>
<rect x="1221" y="120" width="1" height="31" fill="#000"/>
<rect x="1219" y="125" width="5" height="22" fill="#000"/>
<rect x="1229" y="135" width="1" height="23" fill="#000"/>
<rect x="1227" y="145" width="5" height="1" fill="#000"/>
<rect x="1237" y="120" width="1" height="48" fill="#000"/>
<rect x="1235" y="137" width="5" height="9" fill="#000"/>
<rect x="1236" y="138" width="3" height="7" fill="#fff"/>
<rect x="1245" y="125" width="1" height="108" fill="#000"/>
<rect x="1243" y="137" width="5" height="90" fill="#000"/>
<rect x="1253" y="221" width="1" height="34" fill="#000"/>
<rect x="1251" y="226" width="5" height="8" fill="#000"/>
<rect x="1261" y="216" width="1" height="26" fill="#000"/>
<rect x="1259" y="232" width="5" height="3" fill="#000"/>
<rect x="1260" y="233" width="3" height="1" fill="#fff"/>
<rect x="1269" y="230" width="1" height="83" fill="#000"/>
<rect x="1267" y="232" width="5" height="68" fill="#000"/>
<rect x="1277" y="283" width="1" height="54" fill="#000"/>
<rect x="1275" y="299" width="5" height="26" fill="#000"/>
<rect x="1285" y="220" width="1" height="116" fill="#000"/>
<rect x="1283" y="231" width="5" height="92" fill="#000"/>
<rect x="1284" y="232" width="3" height="90" fill="#fff"/>
<rect x="1293" y="220" width="1" height="77" fill="#000"/>
<rect x="1291" y="230" width="5" height="15" fill="#000"/>
<rect x="1301" y="245" width="1" height="22" fill="#000"/>
<rect x="1299" y="245" width="5" height="18" fill="#000"/>
<rect x="1309" y="235" width="1" height="46" fill="#000"/>
<rect x="1307" y="258" width="5" height="4" fill="#000"/>
<rect x="1308" y="259" width="3" height="2" fill="#fff"/>
<rect x="1317" y="256" width="1" height="60" fill="#000"/>
<rect x="1315" y="257" width="5" height="38" fill="#000"/>
<rect x="1325" y="271" width="1" height="37" fill="#000"/>
<rect x="1323" y="292" width="5" height="9" fill="#000"/>
<rect x="1324" y="293" width="3" height="7" fill="#fff"/>
<rect x="1333" y="187" width="1" height="108" fill="#000"/>
<rect x="1331" y="187" width="5" height="105" fill="#000"/>
<rect x="1332" y="188" width="3" height="103" fill="#fff"/>
<rect x="1341" y="166" width="1" height="35" fill="#000"/>
<rect x="1339" y="184" width="5" height="4" fill="#000"/>
<rect x="1340" y="185" width="3" height="2" fill="#fff"/>
<rect x="1349" y="182" width="1" height="12" fill="#000"/>
<rect x="1347" y="182" width="5" height="8" fill="#000"/>
<rect x="1357" y="173" width="1" height="12" fill="#000"/>
<rect x="1355" y="180" width="5" height="1" fill="#000"/>
<rect x="1365" y="140" width="1" height="41" fill="#000"/>
<rect x="1363" y="145" width="5" height="36" fill="#000"/>
<rect x="1364" y="146" width="3" height="34" fill="#fff"/>
<rect x="1373" y="139" width="1" height="25" fill="#000"/>
<rect x="1371" y="145" width="5" height="12" fill="#000"/>
<rect x="1381" y="135" width="1" height="31" fill="#000"/>
<rect x="1379" y="139" width="5" height="19" fill="#000"/>
<rect x="1380" y="140" width="3" height="17" fill="#fff"/>
<rect x="1389" y="101" width="1" height="42" fill="#000"/>
<rect x="1387" y="109" width="5" height="30" fill="#000"/>
<rect x="1388" y="110" width="3" height="28" fill="#fff"/>
<rect x="1397" y="96" width="1" height="21" fill="#000"/>
<rect x="1395" y="109" width="5" height="8" fill="#000"/>
<rect x="1405" y="108" width="1" height="17" fill="#000"/>
<rect x="1403" y="108" width="5" height="17" fill="#000"/>
<rect x="1404" y="109" width="3" height="15" fill="#fff"/>
<rect x="1413" y="108" width="1" height="1" fill="#000"/>
<rect x="1411" y="108" width="5" height="1" fill="#000"/>
<path d="M2,613h3v1h-3zM8,614h1v1h-1zM9,615h2v1h-2zM14,616h2v1h-2zM16,617h1v1h-1zM20,618h3v1h-3zM26,619h1v1h-1zM27,620h2v1h-2zM32,622h2v1h-2zM34,623h1v1h-1zM38,624h1v1h-1zM39,625h2v1h-2zM43,626h3v1h-3zM49,626h1v1h-1zM50,627h2v1h-2zM55,627h2v1h-2zM57,628h1v1h-1zM61,628h3v1h-3zM67,629h3v1h-3zM73,630h2v1h-2zM78,630h3v1h-3zM84,630h3v1h-3zM90,630h3v1h-3zM96,631h3v1h-3zM102,632h3v1h-3zM108,633h2v1h-2zM113,634h1v1h-1zM114,635h2v1h-2zM119,637h2v1h-2zM121,638h1v1h-1zM125,640h2v1h-2zM127,641h1v1h-1zM131,643h1v1h-1zM132,644h1v1h-1zM133,645h1v1h-1zM136,648h1v1h-1zM137,649h2v1h-2zM142,653h1v1h-1zM143,654h1v1h-1zM144,655h1v1h-1zM147,659h1v1h-1zM148,660h1v1h-1zM149,661h1v1h-1zM152,665h1v1h-1zM153,666h1v1h-1zM154,667h1v1h-1zM157,671h1v1h-1zM158,672h1v2h-1zM161,676h1v1h-1zM162,677h1v1h-1zM163,678h1v1h-1zM165,682h1v1h-1zM166,683h1v1h-1zM167,684h1v1h-1zM170,688h1v2h-1zM171,690h1v1h-1zM174,694h1v1h-1zM175,695h1v1h-1zM176,696h1v1h-1zM179,700h1v1h-1zM180,701h1v1h-1zM181,702h1v1h-1zM184,706h1v1h-1zM185,707h1v1h-1zM186,708h1v1h-1zM189,711h1v1h-1zM190,712h1v1h-1zM191,713h1v1h-1zM195,716h2v1h-2zM197,717h1v1h-1zM201,719h1v1h-1zM202,720h2v1h-2zM207,721h1v1h-1zM208,722h2v1h-2zM213,721h3v1h-3zM219,720h2v1h-2zM221,719h1v1h-1zM225,716h1v1h-1zM226,715h1v1h-1zM230,712h1v1h-1zM231,711h1v1h-1zM232,710h1v1h-1zM236,706h1v1h-1zM237,705h1v1h-1zM238,704h1v1h-1zM242,701h1v1h-1zM243,700h1v1h-1zM244,699h1v1h-1zM247,695h1v1h-1zM248,694h1v1h-1zM249,693h1v1h-1zM252,689h1v1h-1zM253,688h1v1h-1zM254,687h1v1h-1zM257,683h1v1h-1zM258,682h1v1h-1zM259,681h1v1h-1zM262,677h1v1h-1zM263,676h1v1h-1zM264,675h1v1h-1zM267,671h1v1h-1zM268,670h1v1h-1zM269,669h1v1h-1zM272,665h1v1h-1zM273,664h1v1h-1zM274,663h1v1h-1zM277,659h1v1h-1zM278,658h1v1h-1zM279,657h1v1h-1zM282,653h1v1h-1zM283,652h1v1h-1zM284,651h1v1h-1zM288,647h2v1h-2zM290,646h1v1h-1zM294,642h1v1h-1zM295,641h2v1h-2zM300,638h1v1h-1zM301,637h1v1h-1zM302,636h1v1h-1zM305,633h2v1h-2zM307,632h1v1h-1zM311,630h1v1h-1zM312,629h2v1h-2zM317,626h2v1h-2zM319,625h1v1h-1zM323,623h3v1h-3zM329,621h2v1h-2zM331,620h1v1h-1zM335,619h1v1h-1zM336,618h2v1h-2zM341,616h2v1h-2zM343,615h1v1h-1zM347,614h1v1h-1zM348,613h2v1h-2zM353,612h3v1h-3zM359,611h2v1h-2zM361,610h1v1h-1zM365,610h1v1h-1zM366,609h2v1h-2zM371,608h1v1h-1zM372,607h2v1h-2zM377,606h3v1h-3zM383,605h3v1h-3zM389,605h2v1h-2zM391,604h1v1h-1zM395,604h3v1h-3zM401,604h3v1h-3zM407,604h3v1h-3zM413,604h3v1h-3zM419,604h3v1h-3zM425,604h3v1h-3zM431,605h3v1h-3zM436,606h3v1h-3zM442,606h3v1h-3zM448,606h1v1h-1zM449,607h2v1h-2zM454,607h3v1h-3zM460,608h3v1h-3zM466,609h3v1h-3zM472,610h3v1h-3zM477,611h3v1h-3zM483,612h1v1h-1zM484,613h2v1h-2zM489,614h3v1h-3zM495,615h1v1h-1zM496,616h2v1h-2zM501,617h1v1h-1zM502,618h2v1h-2zM507,619h2v1h-2zM509,620h1v1h-1zM513,621h1v1h-1zM514,622h2v1h-2zM519,623h1v1h-1zM520,624h2v1h-2zM525,625h3v1h-3zM531,626h2v1h-2zM533,627h1v1h-1zM537,627h2v1h-2zM539,628h1v1h-1zM542,628h3v1h-3zM548,629h3v1h-3zM554,630h3v1h-3zM560,631h3v1h-3zM566,632h3v1h-3zM572,633h3v1h-3zM578,633h1v2h-1zM579,634h1v1h-1zM583,634h3v1h-3zM589,635h3v1h-3zM595,636h3v1h-3zM601,637h3v1h-3zM607,638h3v1h-3zM613,639h3v1h-3zM619,639h1v1h-1zM620,640h2v1h-2zM625,640h3v1h-3zM631,640h2v1h-2zM633,641h1v1h-1zM637,641h3v1h-3zM643,641h3v1h-3zM649,642h3v1h-3zM655,642h3v1h-3zM661,643h3v1h-3zM667,643h1v1h-1zM668,644h2v1h-2zM673,644h3v1h-3zM679,645h3v1h-3zM685,646h3v1h-3zM691,647h3v1h-3zM697,647h2v1h-2zM699,648h1v1h-1zM703,648h3v1h-3zM709,649h3v1h-3zM715,649h2v1h-2zM717,648h1v1h-1zM721,648h3v1h-3zM727,647h3v1h-3zM733,647h1v1h-1zM734,646h2v1h-2zM739,646h3v1h-3zM745,647h3v1h-3zM751,647h3v1h-3zM757,647h3v1h-3zM763,648h2v1h-2zM765,649h1v1h-1zM769,650h3v1h-3zM775,651h2v1h-2zM777,652h1v1h-1zM781,653h2v1h-2zM786,654h2v1h-2zM788,655h1v1h-1zM792,656h3v1h-3zM798,657h3v1h-3zM804,658h3v1h-3zM809,658h3v1h-3zM815,658h3v1h-3zM821,657h1v1h-1zM822,656h2v1h-2zM827,655h3v1h-3zM833,654h1v1h-1zM834,653h2v1h-2zM839,651h1v1h-1zM840,650h2v1h-2zM845,648h2v1h-2zM847,647h1v1h-1zM851,646h1v1h-1zM852,645h2v1h-2zM857,643h1v1h-1zM858,642h2v1h-2zM863,640h2v1h-2zM865,639h1v1h-1zM869,638h1v1h-1zM870,637h2v1h-2zM875,636h1v1h-1zM876,635h2v1h-2zM881,633h2v1h-2zM886,632h3v1h-3zM892,631h3v1h-3zM898,630h3v1h-3zM904,629h3v1h-3zM910,629h3v1h-3zM916,629h3v1h-3zM922,629h3v1h-3zM928,630h3v1h-3zM934,631h3v1h-3zM939,632h3v1h-3zM945,632h3v1h-3zM951,632h3v1h-3zM957,632h1v1h-1zM958,631h2v1h-2zM963,631h3v1h-3zM969,631h2v1h-2zM971,630h1v1h-1zM975,630h3v1h-3zM980,629h3v1h-3zM986,628h3v1h-3zM992,626h2v1h-2zM994,625h1v1h-1zM998,624h1v1h-1zM999,623h2v1h-2zM1004,622h2v1h-2zM1006,621h1v1h-1zM1010,620h2v1h-2zM1012,619h1v1h-1zM1016,617h1v2h-1zM1017,617h1v1h-1zM1021,615h3v1h-3zM1027,613h3v1h-3zM1033,611h3v1h-3zM1039,609h2v1h-2zM1041,608h1v1h-1zM1045,607h1v1h-1zM1046,606h2v1h-2zM1051,605h3v1h-3zM1057,604h1v1h-1zM1058,603h2v1h-2zM1062,603h3v1h-3zM1068,602h3v1h-3zM1074,602h3v1h-3zM1080,602h3v1h-3zM1086,602h3v1h-3zM1092,602h3v1h-3zM1098,602h1v1h-1zM1099,603h2v1h-2zM1104,603h3v1h-3zM1110,604h3v1h-3zM1116,605h3v1h-3zM1122,605h1v1h-1zM1123,606h2v1h-2zM1128,607h1v1h-1zM1129,608h2v1h-2zM1134,609h1v1h-1zM1135,610h2v1h-2zM1140,611h2v1h-2zM1142,612h1v1h-1zM1146,613h3v1h-3zM1152,614h2v1h-2zM1154,615h1v1h-1zM1158,616h3v1h-3zM1164,617h3v1h-3zM1170,618h2v1h-2zM1172,619h1v1h-1zM1175,619h1v1h-1zM1176,620h2v1h-2zM1181,621h2v1h-2zM1183,622h1v1h-1zM1187,623h1v1h-1zM1188,624h2v1h-2zM1193,625h3v1h-3zM1199,626h1v1h-1zM1200,627h2v1h-2zM1204,628h2v1h-2zM1206,629h1v1h-1zM1210,630h2v1h-2zM1212,631h1v1h-1zM1216,632h2v1h-2zM1218,633h1v1h-1zM1222,635h3v1h-3zM1227,637h1v1h-1zM1228,638h2v1h-2zM1233,640h1v1h-1zM1234,641h2v1h-2zM1240,643h1v1h-1zM1241,644h1v1h-1zM1242,645h1v1h-1zM1246,648h2v1h-2zM1248,649h1v1h-1zM1252,652h1v1h-1zM1253,653h1v1h-1zM1254,654h1v1h-1zM1257,657h2v1h-2zM1259,658h1v1h-1zM1263,661h1v1h-1zM1264,662h2v1h-2zM1269,666h2v1h-2zM1271,667h1v1h-1zM1275,671h1v1h-1zM1276,672h1v1h-1zM1277,673h1v1h-1zM1281,676h1v2h-1zM1282,677h1v1h-1zM1286,680h1v1h-1zM1287,681h1v1h-1zM1288,682h1v1h-1zM1292,685h1v1h-1zM1293,686h1v1h-1zM1294,687h1v1h-1zM1298,690h1v1h-1zM1299,691h2v1h-2zM1304,694h1v1h-1zM1305,695h1v1h-1zM1306,696h1v1h-1zM1310,699h1v1h-1zM1311,700h2v1h-2zM1316,703h1v1h-1zM1317,704h2v1h-2zM1322,706h2v1h-2zM1324,707h1v1h-1zM1327,708h3v1h-3zM1333,708h2v1h-2zM1335,709h1v1h-1zM1339,708h3v1h-3zM1345,707h2v1h-2zM1347,706h1v1h-1zM1351,704h3v1h-3zM1357,702h1v1h-1zM1358,701h2v1h-2zM1363,698h1v1h-1zM1364,697h1v1h-1zM1368,695h1v1h-1zM1369,694h2v1h-2zM1374,691h1v1h-1zM1375,690h1v1h-1zM1376,689h1v1h-1zM1380,686h1v1h-1zM1381,685h1v1h-1zM1382,684h1v1h-1zM1386,679h1v2h-1zM1387,678h1v1h-1zM1391,674h1v1h-1zM1392,673h1v1h-1zM1393,672h1v1h-1zM1397,667h1v2h-1zM1398,666h1v1h-1zM1402,663h1v1h-1zM1403,662h1v1h-1zM1404,661h1v1h-1zM1408,657h1v1h-1zM1409,656h1v1h-1z" fill="#ff0000"/>
<polyline points="0.0,829.1 5.5,823.1 13.5,824.8 21.5,829.1 29.5,836.6 37.5,841.9 45.5,824.8 53.5,821.1 61.5,828.1 69.5,822.3 77.5,821.1 85.5,819.1 93.5,833.6 101.5,853.1 109.5,856.6 117.5,861.1 125.5,863.1 133.5,869.9 141.5,878.2 149.5,888.7 157.5,887.4 165.5,876.9 173.5,879.4 181.5,862.4 189.5,861.1 197.5,832.4 205.5,835.4 213.5,830.3 221.5,834.9 229.5,824.3 237.5,832.4 245.5,821.1 253.5,821.1 261.5,819.3 269.5,819.3 277.5,819.3 285.5,818.1 293.5,827.3 301.5,822.8 309.5,819.3 317.5,819.3 325.5,815.3 333.5,811.3 341.5,811.3 349.5,807.1 357.5,807.1 365.5,809.1 373.5,826.8 381.5,833.1 389.5,821.1 397.5,813.1 405.5,810.1 413.5,813.8 421.5,816.1 429.5,828.1 437.5,822.3 445.5,829.1 453.5,823.3 461.5,825.1 469.5,831.1 477.5,827.1 485.5,825.3 493.5,828.1 501.5,838.4 509.5,832.4 517.5,838.4 525.5,828.6 533.5,825.1 541.5,820.3 549.5,825.1 557.5,832.4 565.5,836.9 573.5,840.4 581.5,838.4 589.5,838.4 597.5,841.4 605.5,837.1 613.5,825.3 621.5,822.3 629.5,819.1 637.5,828.1 645.5,842.4 653.5,854.4 661.5,845.4 669.5,845.4 677.5,836.1 685.5,834.1 693.5,831.1 701.5,820.3 709.5,828.1 717.5,826.3 725.5,830.1 733.5,833.4 741.5,855.1 749.5,857.4 757.5,853.1 765.5,849.1 773.5,849.1 781.5,847.4 789.5,831.9 797.5,823.6 805.5,830.3 813.5,828.3 821.5,827.1 829.5,822.3 837.5,810.6 845.5,810.3 853.5,809.1 861.5,824.1 869.5,820.3 877.5,825.1 885.5,827.3 893.5,822.3 901.5,829.1 909.5,830.3 917.5,837.4 925.5,832.4 933.5,832.4 941.5,812.3 949.5,811.1 957.5,812.3 965.5,814.1 973.5,817.3 981.5,812.3 989.5,797.3 997.5,794.3 1005.5,793.1 1013.5,792.3 1021.5,792.3 1029.5,791.1 1037.5,816.3 1045.5,805.3 1053.5,805.3 1061.5,805.3 1069.5,802.3 1077.5,800.1 1085.5,802.3 1093.5,808.1 1101.5,811.3 1109.5,818.1 1117.5,835.4 1125.5,825.3 1133.5,832.4 1141.5,826.3 1149.5,806.3 1157.5,811.3 1165.5,822.3 1173.5,831.1 1181.5,835.4 1189.5,850.4 1197.5,843.4 1205.5,851.4 1213.5,840.4 1221.5,848.4 1229.5,847.4 1237.5,843.1 1245.5,868.1 1253.5,870.4 1261.5,869.1 1269.5,881.2 1277.5,884.4 1285.5,851.1 1293.5,853.1 1301.5,856.1 1309.5,855.1 1317.5,863.1 1325.5,860.4 1333.5,832.4 1341.5,832.4 1349.5,833.6 1357.5,831.9 1365.5,823.3 1373.5,826.1 1381.5,821.1 1389.5,816.3 1397.5,820.3 1405.5,817.3 1413.5,817.3" fill="none" stroke="#1e90ff" stroke-width="1"/>
</svg>
<svg width="1702" height="937" viewBox="0 0 1702 937">
<rect x="1656" y="24" width="2" height="1" fill="#000"/>
<text transform="translate(1661,28) scale(0.915,1)" font-size="10" fill="#000" stroke="#000" stroke-width="0.3" text-anchor="start">35636.0</text>
<rect x="1656" y="57" width="2" height="1" fill="#000"/>
<text transform="translate(1661,61) scale(0.915,1)" font-size="10" fill="#000" stroke="#000" stroke-width="0.3" text-anchor="start">35513.5</text>
<rect x="1656" y="90" width="2" height="1" fill="#000"/>
<text transform="translate(1661,94) scale(0.915,1)" font-size="10" fill="#000" stroke="#000" stroke-width="0.3" text-anchor="start">35394.5</text>
<rect x="1656" y="123" width="2" height="1" fill="#000"/>
<text transform="translate(1661,127) scale(0.915,1)" font-size="10" fill="#000" stroke="#000" stroke-width="0.3" text-anchor="start">35272.0</text>
<rect x="1656" y="156" width="2" height="1" fill="#000"/>
<text transform="translate(1661,160) scale(0.915,1)" font-size="10" fill="#000" stroke="#000" stroke-width="0.3" text-anchor="start">35153.0</text>
<rect x="1656" y="189" width="2" height="1" fill="#000"/>
<text transform="translate(1661,193) scale(0.915,1)" font-size="10" fill="#000" stroke="#000" stroke-width="0.3" text-anchor="start">35030.5</text>
<rect x="1656" y="222" width="2" height="1" fill="#000"/>
<text transform="translate(1661,226) scale(0.915,1)" font-size="10" fill="#000" stroke="#000" stroke-width="0.3" text-anchor="start">34911.5</text>
<rect x="1656" y="255" width="2" height="1" fill="#000"/>
<text transform="translate(1661,259) scale(0.915,1)" font-size="10" fill="#000" stroke="#000" stroke-width="0.3" text-anchor="start">34789.0</text>
<rect x="1656" y="288" width="2" height="1" fill="#000"/>
<text transform="translate(1661,292) scale(0.915,1)" font-size="10" fill="#000" stroke="#000" stroke-width="0.3" text-anchor="start">34666.5</text>
<rect x="1656" y="321" width="2" height="1" fill="#000"/>
<text transform="translate(1661,325) scale(0.915,1)" font-size="10" fill="#000" stroke="#000" stroke-width="0.3" text-anchor="start">34547.5</text>
<rect x="1656" y="354" width="2" height="1" fill="#000"/>
<text transform="translate(1661,358) scale(0.915,1)" font-size="10" fill="#000" stroke="#000" stroke-width="0.3" text-anchor="start">34425.0</text>
<rect x="1656" y="387" width="2" height="1" fill="#000"/>
<text transform="translate(1661,391) scale(0.915,1)" font-size="10" fill="#000" stroke="#000" stroke-width="0.3" text-anchor="start">34306.0</text>
<rect x="1656" y="420" width="2" height="1" fill="#000"/>
<text transform="translate(1661,424) scale(0.915,1)" font-size="10" fill="#000" stroke="#000" stroke-width="0.3" text-anchor="start">34183.5</text>
<rect x="1656" y="453" width="2" height="1" fill="#000"/>
<text transform="translate(1661,457) scale(0.915,1)" font-size="10" fill="#000" stroke="#000" stroke-width="0.3" text-anchor="start">34064.5</text>
<rect x="1656" y="486" width="2" height="1" fill="#000"/>
<text transform="translate(1661,490) scale(0.915,1)" font-size="10" fill="#000" stroke="#000" stroke-width="0.3" text-anchor="start">33942.0</text>
<rect x="1656" y="519" width="2" height="1" fill="#000"/>
<text transform="translate(1661,523) scale(0.915,1)" font-size="10" fill="#000" stroke="#000" stroke-width="0.3" text-anchor="start">33823.0</text>
<rect x="1656" y="552" width="2" height="1" fill="#000"/>
<text transform="translate(1661,556) scale(0.915,1)" font-size="10" fill="#000" stroke="#000" stroke-width="0.3" text-anchor="start">33700.5</text>
<rect x="1656" y="585" width="2" height="1" fill="#000"/>
<text transform="translate(1661,589) scale(0.915,1)" font-size="10" fill="#000" stroke="#000" stroke-width="0.3" text-anchor="start">33581.5</text>
<text transform="translate(1659.5,601) scale(0.915,1)" font-size="10" fill="#000" stroke="#000" stroke-width="0.3" text-anchor="start">135.89</text>
<text transform="translate(1659.5,652) scale(0.915,1)" font-size="10" fill="#000" stroke="#000" stroke-width="0.3" text-anchor="start">0.00</text>
<text transform="translate(1659.5,743) scale(0.915,1)" font-size="10" fill="#000" stroke="#000" stroke-width="0.3" text-anchor="start">-232.22</text>
<rect x="1656" y="592" width="1" height="1" fill="#000"/>
<rect x="1656" y="648" width="1" height="1" fill="#000"/>
<rect x="1656" y="745" width="1" height="1" fill="#000"/>
<text transform="translate(1659.5,759) scale(0.915,1)" font-size="10" fill="#000" stroke="#000" stroke-width="0.3" text-anchor="start">100</text>
<text transform="translate(1659.5,788) scale(0.915,1)" font-size="10" fill="#000" stroke="#000" stroke-width="0.3" text-anchor="start">80</text>
<text transform="translate(1659.5,839) scale(0.915,1)" font-size="10" fill="#000" stroke="#000" stroke-width="0.3" text-anchor="start">50</text>
<text transform="translate(1659.5,900) scale(0.915,1)" font-size="10" fill="#000" stroke="#000" stroke-width="0.3" text-anchor="start">15</text>
<text transform="translate(1659.5,919) scale(0.915,1)" font-size="10" fill="#000" stroke="#000" stroke-width="0.3" text-anchor="start">0</text>
<rect x="1656" y="750" width="1" height="1" fill="#000"/>
<rect x="1656" y="921" width="1" height="1" fill="#000"/>
<rect x="1657" y="59" width="41" height="11" fill="#ff0000"/>
<text transform="translate(1661,68) scale(0.915,1)" font-size="10" fill="#fff" stroke="#fff" stroke-width="0.3" text-anchor="start">35483.7</text>
<rect x="1657" y="79" width="41" height="11" fill="#ff0000"/>
<text transform="translate(1661,88) scale(0.915,1)" font-size="10" fill="#fff" stroke="#fff" stroke-width="0.3" text-anchor="start">35410.6</text>
<rect x="1657" y="103" width="41" height="11" fill="#000000"/>
<text transform="translate(1661,112) scale(0.915,1)" font-size="10" fill="#fff" stroke="#fff" stroke-width="0.3" text-anchor="start">35326.0</text>
<rect x="1657" y="117" width="41" height="11" fill="#32cd32"/>
<text transform="translate(1661,126) scale(0.915,1)" font-size="10" fill="#fff" stroke="#fff" stroke-width="0.3" text-anchor="start">35271.6</text>
<rect x="1657" y="137" width="41" height="11" fill="#0000ff"/>
<text transform="translate(1661,146) scale(0.915,1)" font-size="10" fill="#fff" stroke="#fff" stroke-width="0.3" text-anchor="start">35198.5</text>
<rect x="1657" y="155" width="41" height="11" fill="#0000ff"/>
<text transform="translate(1661,164) scale(0.915,1)" font-size="10" fill="#fff" stroke="#fff" stroke-width="0.3" text-anchor="start">35132.6</text>
<rect x="1650.5" y="63.5" width="4" height="4" fill="#fff" stroke="#ff0000" stroke-width="1"/>
<rect x="1650.5" y="83.5" width="4" height="4" fill="#fff" stroke="#ff0000" stroke-width="1"/>
<rect x="1650.5" y="121.5" width="4" height="4" fill="#fff" stroke="#32cd32" stroke-width="1"/>
<rect x="1650.5" y="141.5" width="4" height="4" fill="#fff" stroke="#0000ff" stroke-width="1"/>
<rect x="1650.5" y="159.5" width="4" height="4" fill="#fff" stroke="#0000ff" stroke-width="1"/>
<rect x="-1.5" y="121.5" width="4" height="4" fill="#fff" stroke="#32cd32" stroke-width="1"/>
<rect x="-1.5" y="141.5" width="4" height="4" fill="#fff" stroke="#0000ff" stroke-width="1"/>
<rect x="-1.5" y="159.5" width="4" height="4" fill="#fff" stroke="#0000ff" stroke-width="1"/>
<rect x="-3" y="923" width="1" height="3" fill="#000"/>
<text transform="translate(-3.6,935) scale(0.912,1)" font-size="10" fill="#000" stroke="#000" stroke-width="0.3" text-anchor="start">14 Jul 2021</text>
<rect x="61" y="923" width="1" height="3" fill="#000"/>
<text transform="translate(60.4,935) scale(0.912,1)" font-size="10" fill="#000" stroke="#000" stroke-width="0.3" text-anchor="start">15 Jul 20:00</text>
<rect x="125" y="923" width="1" height="3" fill="#000"/>
<text transform="translate(124.4,935) scale(0.912,1)" font-size="10" fill="#000" stroke="#000" stroke-width="0.3" text-anchor="start">19 Jul 00:00</text>
<rect x="189" y="923" width="1" height="3" fill="#000"/>
<text transform="translate(188.4,935) scale(0.912,1)" font-size="10" fill="#000" stroke="#000" stroke-width="0.3" text-anchor="start">20 Jul 08:00</text>
<rect x="253" y="923" width="1" height="3" fill="#000"/>
<text transform="translate(252.4,935) scale(0.912,1)" font-size="10" fill="#000" stroke="#000" stroke-width="0.3" text-anchor="start">21 Jul 16:00</text>
<rect x="317" y="923" width="1" height="3" fill="#000"/>
<text transform="translate(316.4,935) scale(0.912,1)" font-size="10" fill="#000" stroke="#000" stroke-width="0.3" text-anchor="start">23 Jul 00:00</text>
<rect x="381" y="923" width="1" height="3" fill="#000"/>
<text transform="translate(380.4,935) scale(0.912,1)" font-size="10" fill="#000" stroke="#000" stroke-width="0.3" text-anchor="start">26 Jul 04:00</text>
<rect x="445" y="923" width="1" height="3" fill="#000"/>
<text transform="translate(444.4,935) scale(0.912,1)" font-size="10" fill="#000" stroke="#000" stroke-width="0.3" text-anchor="start">27 Jul 12:00</text>
<rect x="509" y="923" width="1" height="3" fill="#000"/>
<text transform="translate(508.4,935) scale(0.912,1)" font-size="10" fill="#000" stroke="#000" stroke-width="0.3" text-anchor="start">28 Jul 20:00</text>
<rect x="573" y="923" width="1" height="3" fill="#000"/>
<text transform="translate(572.4,935) scale(0.912,1)" font-size="10" fill="#000" stroke="#000" stroke-width="0.3" text-anchor="start">30 Jul 04:00</text>
<rect x="637" y="923" width="1" height="3" fill="#000"/>
<text transform="translate(636.4,935) scale(0.912,1)" font-size="10" fill="#000" stroke="#000" stroke-width="0.3" text-anchor="start">2 Aug 08:00</text>
<rect x="701" y="923" width="1" height="3" fill="#000"/>
<text transform="translate(700.4,935) scale(0.912,1)" font-size="10" fill="#000" stroke="#000" stroke-width="0.3" text-anchor="start">3 Aug 16:00</text>
<rect x="765" y="923" width="1" height="3" fill="#000"/>
<text transform="translate(764.4,935) scale(0.912,1)" font-size="10" fill="#000" stroke="#000" stroke-width="0.3" text-anchor="start">5 Aug 00:00</text>
<rect x="829" y="923" width="1" height="3" fill="#000"/>
<text transform="translate(828.4,935) scale(0.912,1)" font-size="10" fill="#000" stroke="#000" stroke-width="0.3" text-anchor="start">6 Aug 08:00</text>
<rect x="893" y="923" width="1" height="3" fill="#000"/>
<text transform="translate(892.4,935) scale(0.912,1)" font-size="10" fill="#000" stroke="#000" stroke-width="0.3" text-anchor="start">9 Aug 12:00</text>
<rect x="957" y="923" width="1" height="3" fill="#000"/>
<text transform="translate(956.4,935) scale(0.912,1)" font-size="10" fill="#000" stroke="#000" stroke-width="0.3" text-anchor="start">10 Aug 20:00</text>
<rect x="1021" y="923" width="1" height="3" fill="#000"/>
<text transform="translate(1020.4,935) scale(0.912,1)" font-size="10" fill="#000" stroke="#000" stroke-width="0.3" text-anchor="start">12 Aug 04:00</text>
<rect x="1085" y="923" width="1" height="3" fill="#000"/>
<text transform="translate(1084.4,935) scale(0.912,1)" font-size="10" fill="#000" stroke="#000" stroke-width="0.3" text-anchor="start">13 Aug 12:00</text>
<rect x="1149" y="923" width="1" height="3" fill="#000"/>
<text transform="translate(1148.4,935) scale(0.912,1)" font-size="10" fill="#000" stroke="#000" stroke-width="0.3" text-anchor="start">16 Aug 16:00</text>
<rect x="1213" y="923" width="1" height="3" fill="#000"/>
<text transform="translate(1212.4,935) scale(0.912,1)" font-size="10" fill="#000" stroke="#000" stroke-width="0.3" text-anchor="start">18 Aug 00:00</text>
<rect x="1277" y="923" width="1" height="3" fill="#000"/>
<text transform="translate(1276.4,935) scale(0.912,1)" font-size="10" fill="#000" stroke="#000" stroke-width="0.3" text-anchor="start">19 Aug 08:00</text>
<rect x="1341" y="923" width="1" height="3" fill="#000"/>
<text transform="translate(1340.4,935) scale(0.912,1)" font-size="10" fill="#000" stroke="#000" stroke-width="0.3" text-anchor="start">20 Aug 16:00</text>
<rect x="1405" y="923" width="1" height="3" fill="#000"/>
<text transform="translate(1404.4,935) scale(0.912,1)" font-size="10" fill="#000" stroke="#000" stroke-width="0.3" text-anchor="start">23 Aug 20:00</text>
<text transform="translate(12.5,33) scale(0.925,1)" font-size="10" fill="#000" stroke="#000" stroke-width="0.3" text-anchor="start">DJ30-,H4&#160;&#160;35326.0 35326.0 35326.0 35326.0</text>
<polygon points="0,32.5 3.5,28 7.5,32.5" fill="#000"/>
<text transform="translate(1.7,603) scale(0.94,1)" font-size="10" fill="#000" stroke="#000" stroke-width="0.3" text-anchor="start">MACD(12,26,9) 60.18 -6.64</text>
<text transform="translate(1.5,761) scale(0.915,1)" font-size="10" fill="#000" stroke="#000" stroke-width="0.3" text-anchor="start">RSI(14) 60.7641</text>
<polygon points="1417.5,22 1426.5,22 1422,27" fill="#c0c0c0"/>
<rect x="1381" y="117" width="118" height="8" fill="#00ff00"/>
<rect x="86.5" y="565.5" width="61" height="18" fill="#fff" stroke="#ff0000" stroke-width="1"/>
<text x="89" y="581" font-size="16" fill="#ff0000" text-anchor="start">33619.2</text>
<rect x="148" y="574" width="10" height="1" fill="#ff0000"/>
<rect x="622.5" y="298.5" width="61" height="18" fill="#fff" stroke="#ff0000" stroke-width="1"/>
<text x="625" y="314" font-size="16" fill="#ff0000" text-anchor="start">34598.7</text>
<rect x="684" y="307" width="10" height="1" fill="#ff0000"/>
<rect x="1086.5" y="37.5" width="61" height="18" fill="#fff" stroke="#ff0000" stroke-width="1"/>
<text x="1089" y="53" font-size="16" fill="#ff0000" text-anchor="start">35553.2</text>
<rect x="1148" y="46" width="10" height="1" fill="#ff0000"/>
<rect x="1206.5" y="328.5" width="61" height="18" fill="#fff" stroke="#ff0000" stroke-width="1"/>
<text x="1209" y="344" font-size="16" fill="#ff0000" text-anchor="start">34489.0</text>
<rect x="1268" y="337" width="10" height="1" fill="#ff0000"/>
<rect x="1270.5" y="157.5" width="61" height="18" fill="#fff" stroke="#ff0000" stroke-width="1"/>
<text x="1273" y="173" font-size="16" fill="#ff0000" text-anchor="start">35114.4</text>
<rect x="1332" y="166" width="10" height="1" fill="#ff0000"/>
<rect x="1270" y="123" width="11" height="1" fill="#ff0000"/>
<rect x="1276.5" y="121.5" width="4" height="4" fill="#fff" stroke="#ff0000" stroke-width="1"/>
<rect x="1280.5" y="111.5" width="73" height="23" fill="#fff" stroke="#ff0000" stroke-width="1"/>
<text x="1282" y="131" font-size="20" fill="#ff0000" text-anchor="start">35271.6</text>
<rect x="1518.5" y="119.5" width="110" height="24" fill="none" stroke="#404040" stroke-width="1"/>
<rect x="1519" y="143" width="110" height="1" fill="#c8c832"/>
<text x="1518.6" y="139" font-size="21.2" fill="#00ff00" font-weight="300" style="font-family:&quot;Liberation Serif&quot;,&quot;Noto Serif CJK SC&quot;,serif">多空转折点</text>
<line x1="1289.3" y1="327.0" x2="1294.0" y2="221.0" stroke="#ff0000" stroke-width="3.2"/>
<polygon points="1294.4,211.0 1299.0,221.2 1289.0,220.8" fill="#ff0000"/>
<line x1="1294.4" y1="213.0" x2="1316.9" y2="296.4" stroke="#ff0000" stroke-width="3.2"/>
<polygon points="1319.8,307.0 1311.1,297.9 1322.7,294.8" fill="#ff0000"/>
<line x1="1319.8" y1="305.0" x2="1421.1" y2="105.0" stroke="#ff0000" stroke-width="3.4"/>
<polygon points="1426.5,94.3 1426.0,107.5 1416.2,102.5" fill="#ff0000"/>
<line x1="1314.5" y1="708.5" x2="1402.0" y2="630.9" stroke="#ff0000" stroke-width="2.8"/>
<polygon points="1409.5,624.3 1405.0,634.3 1399.0,627.6" fill="#ff0000"/>
<line x1="1290.8" y1="862.4" x2="1400.9" y2="815.0" stroke="#ff0000" stroke-width="2.8"/>
<polygon points="1411.0,810.6 1402.7,819.1 1399.1,810.8" fill="#ff0000"/>
<defs>
<linearGradient id="gt" x1="0" y1="0" x2="0" y2="1"><stop offset="0" stop-color="#f85656"/><stop offset="1" stop-color="#dc3232"/></linearGradient>
<linearGradient id="gb" x1="0" y1="0" x2="0" y2="1"><stop offset="0" stop-color="#d62a2a"/><stop offset="0.6" stop-color="#c01414"/><stop offset="1" stop-color="#a80000"/></linearGradient>
<linearGradient id="gg" x1="0" y1="0" x2="0" y2="1"><stop offset="0" stop-color="#f4f4f4"/><stop offset="0.5" stop-color="#e2e2e2"/><stop offset="1" stop-color="#d0d0d0"/></linearGradient>
</defs>
<rect x="0" y="40" width="221" height="59" fill="#fff"/>
<rect x="0" y="41" width="51" height="24" fill="url(#gt)"/>
<rect x="168" y="41" width="51" height="24" fill="url(#gt)"/>
<rect x="0" y="65" width="109" height="33" fill="url(#gb)"/>
<rect x="111" y="65" width="108" height="33" fill="url(#gb)"/>
<rect x="0" y="41" width="51" height="1" fill="#d03030"/><rect x="168" y="41" width="51" height="1" fill="#d03030"/>
<rect x="218" y="41" width="1" height="57" fill="#b82020"/><rect x="0" y="97" width="109" height="1" fill="#980000"/><rect x="111" y="97" width="108" height="1" fill="#980000"/>
<rect x="4" y="64" width="44" height="1" fill="#f08080"/><rect x="171" y="64" width="44" height="1" fill="#f08080"/>
<rect x="54.5" y="41.5" width="110" height="21" fill="#fff" stroke="#a9b0b8" stroke-width="1"/>
<rect x="55.5" y="42.5" width="19.5" height="19" fill="url(#gg)" stroke="#c4c4c4" stroke-width="0.8"/>
<rect x="144" y="42.5" width="19.5" height="19" fill="url(#gg)" stroke="#c4c4c4" stroke-width="0.8"/>
<polygon points="62.3,50 67.3,50 64.8,53.2" fill="#4a5cb8"/>
<polygon points="151,53.2 156,53.2 153.5,50" fill="#4a5cb8"/>
<text x="116.9" y="56.2" font-size="12" fill="#111" textLength="22.3" lengthAdjust="spacingAndGlyphs">1.00</text>
<text x="12.2" y="57" font-size="13" fill="#fff" textLength="25.6" lengthAdjust="spacingAndGlyphs">SELL</text>
<text x="180.6" y="57" font-size="13" fill="#fff" textLength="22.6" lengthAdjust="spacingAndGlyphs">BUY</text>
<text x="16.2" y="92.6" font-size="12" font-weight="bold" fill="#fff" textLength="34.8" lengthAdjust="spacingAndGlyphs">35324</text>
<text x="126.3" y="92.6" font-size="12" font-weight="bold" fill="#fff" textLength="34.6" lengthAdjust="spacingAndGlyphs">35333</text>
<text x="52.3" y="92.6" font-size="35.5" fill="#fff" textLength="27.5" lengthAdjust="spacingAndGlyphs">.5</text>
<text x="163.1" y="92.6" font-size="35.5" fill="#fff" textLength="27.5" lengthAdjust="spacingAndGlyphs">.5</text>
<rect x="0" y="0" width="1702" height="17" fill="#f0f0f0"/>
<rect x="0" y="16" width="1702" height="1" fill="#e6e6e6"/>
<rect x="0" y="17" width="1702" height="1" fill="#bdbdbd"/>
<rect x="0" y="18" width="1701" height="1" fill="#8c8c8c"/>
<rect x="1701" y="19" width="1" height="918" fill="#e3e3e3"/>
<circle cx="0.5" cy="6" r="4.6" fill="#dcebf7" stroke="#8fb0d8" stroke-width="1.2"/>
<line x1="3.6" y1="9.6" x2="8" y2="13.6" stroke="#c9a227" stroke-width="2.6" stroke-linecap="round"/>
<rect x="16" y="0" width="1" height="15" fill="#a0a0a0"/>
<path d="M26.5,-2 H37.5 V9.5 H26.5 Z" fill="#fff" stroke="#7a7a7a" stroke-width="1"/>
<rect x="28.5" y="2" width="6" height="1" fill="#777"/><rect x="28.5" y="4.5" width="5" height="1" fill="#777"/>
<path d="M34,3.2 H38.2 V6.8 H41.8 V10.8 H38.2 V14.5 H34 V10.8 H30.4 V6.8 H34 Z" fill="#2ce02c" stroke="#12a012" stroke-width="0.9"/>
<text x="45" y="7.6" font-size="12" fill="#000" textLength="36" lengthAdjust="spacingAndGlyphs" style="font-family:&quot;Liberation Sans&quot;,&quot;Noto Sans CJK SC&quot;,sans-serif">新订单</text>
<defs><linearGradient id="gbk" x1="0" y1="0" x2="1" y2="1"><stop offset="0" stop-color="#c98a10"/><stop offset="0.45" stop-color="#f7d54a"/><stop offset="1" stop-color="#d59a1c"/></linearGradient></defs>
<path d="M97.9,-1 L103,-1 L109,6.3 L101.2,12.8 L93.3,6.6 Z" fill="url(#gbk)" stroke="#a06c0c" stroke-width="0.9"/>
<path d="M95.5,7.2 L101.2,11.3 L107.6,6.2" fill="none" stroke="#fbe9a8" stroke-width="1"/>
<rect x="124" y="-2" width="10" height="9" fill="#2f8de0"/>
<rect x="128" y="0" width="4" height="1.3" fill="#fff"/><rect x="128" y="3" width="4" height="1.3" fill="#fff"/>
<path d="M123.6,12.3 a2.7,2.7 0 0 1 0.3,-5.3 a3.6,3.6 0 0 1 6.6,-1 a3.2,3.2 0 0 1 4.6,2.2 a2.2,2.2 0 0 1 -0.4,4.1 Z" fill="#e4eaf4" stroke="#5f7db4" stroke-width="0.9"/>
<path d="M157,4.6 L157,12.6 A8,8 0 0 0 164.6,2 Z" fill="#bfe3bf"/>
<path d="M156.86,7.40 A2.8,2.8 0 0 1 155.60,2.16" fill="none" stroke="#3f74d6" stroke-width="1.1" opacity="1"/>
<path d="M157.14,7.40 A2.8,2.8 0 0 0 158.40,2.16" fill="none" stroke="#58a858" stroke-width="1.1" opacity="1"/>
<path d="M156.74,9.80 A5.2,5.2 0 0 1 154.40,0.08" fill="none" stroke="#3f74d6" stroke-width="1.1" opacity="0.8"/>
<path d="M157.26,9.80 A5.2,5.2 0 0 0 159.60,0.08" fill="none" stroke="#58a858" stroke-width="1.1" opacity="0.8"/>
<path d="M156.62,12.20 A7.6,7.6 0 0 1 153.20,-2.01" fill="none" stroke="#3f74d6" stroke-width="1.1" opacity="0.55"/>
<path d="M157.38,12.20 A7.6,7.6 0 0 0 160.80,-2.01" fill="none" stroke="#58a858" stroke-width="1.1" opacity="0.55"/>
<rect x="156.5" y="5" width="1.2" height="7.8" fill="#22a022"/>
<circle cx="157" cy="4.4" r="1.7" fill="#2f66cf"/>
<ellipse cx="184" cy="0.5" rx="7" ry="3" fill="#6fb6e8" stroke="#3a86c0" stroke-width="0.8"/>
<path d="M177,2 L191,2 L186,9 L184,12 L181,9 Z" fill="#f2cf3a" stroke="#c39a12" stroke-width="0.8"/>
<circle cx="188.6" cy="8.8" r="4.3" fill="#e02010" stroke="#a81008" stroke-width="0.6"/>
<rect x="186.9" y="7.1" width="3.4" height="3.4" fill="#fff"/>
<text x="198" y="8" font-size="12" fill="#000" textLength="45.5" lengthAdjust="spacingAndGlyphs" style="font-family:&quot;Liberation Sans&quot;,&quot;Noto Sans CJK SC&quot;,sans-serif">自动交易</text>
<rect x="252" y="0" width="1" height="15" fill="#a0a0a0"/>
<rect x="256" y="1" width="3" height="1" fill="#b4b4b4"/>
<rect x="256" y="3" width="3" height="1" fill="#b4b4b4"/>
<rect x="256" y="5" width="3" height="1" fill="#b4b4b4"/>
<rect x="256" y="7" width="3" height="1" fill="#b4b4b4"/>
<rect x="256" y="9" width="3" height="1" fill="#b4b4b4"/>
<rect x="256" y="11" width="3" height="1" fill="#b4b4b4"/>
<rect x="256" y="13" width="3" height="1" fill="#b4b4b4"/>
<rect x="270" y="0" width="1" height="13" fill="#3c3c3c"/>
<rect x="268" y="10" width="14" height="1" fill="#3c3c3c"/>
<polygon points="282,8.5 284,10.5 282,12.5" fill="#3c3c3c"/>
<rect x="276" y="0" width="1.4" height="8" fill="#1a9a1a"/><rect x="274" y="6" width="2" height="1.4" fill="#1a9a1a"/><rect x="277" y="1" width="2" height="1.4" fill="#1a9a1a"/>
<rect x="291" y="0" width="24" height="15" fill="#f8f8f8"/>
<rect x="290" y="0" width="1" height="15" fill="#9a9a9a"/>
<rect x="298" y="0" width="1" height="13" fill="#3c3c3c"/>
<rect x="296" y="10" width="14" height="1" fill="#3c3c3c"/>
<polygon points="310,8.5 312,10.5 310,12.5" fill="#3c3c3c"/>
<rect x="302" y="-1" width="4.5" height="8" fill="#22b022" stroke="#0d7a0d" stroke-width="0.7"/><rect x="304" y="7" width="1" height="2" fill="#0d7a0d"/>
<rect x="324" y="0" width="1" height="13" fill="#3c3c3c"/>
<rect x="322" y="10" width="14" height="1" fill="#3c3c3c"/>
<polygon points="336,8.5 338,10.5 336,12.5" fill="#3c3c3c"/>
<path d="M325,8 C328,2 331,-1 334,3 L338,6" fill="none" stroke="#1a9a1a" stroke-width="1.2"/>
<rect x="347" y="0" width="1" height="15" fill="#a0a0a0"/>
<circle cx="362" cy="3" r="5" fill="#d6e8fa" stroke="#5a8ed0" stroke-width="1.4"/>
<line x1="365.8" y1="6.8" x2="370.5" y2="11.5" stroke="#d0a020" stroke-width="2.6" stroke-linecap="round"/>
<rect x="359" y="2.4" width="6" height="1.3" fill="#2a6ac8"/>
<rect x="361.35" y="0" width="1.3" height="6" fill="#2a6ac8"/>
<circle cx="390" cy="3" r="5" fill="#d6e8fa" stroke="#5a8ed0" stroke-width="1.4"/>
<line x1="393.8" y1="6.8" x2="398.5" y2="11.5" stroke="#d0a020" stroke-width="2.6" stroke-linecap="round"/>
<rect x="387" y="2.4" width="6" height="1.3" fill="#2a6ac8"/>
<rect x="413" y="-2" width="7" height="6" fill="#4caf30"/><rect x="421" y="-2" width="7" height="6" fill="#3a78d8"/>
<rect x="413" y="5" width="7" height="7.5" fill="#3a78d8"/><rect x="421" y="5" width="7" height="7.5" fill="#4caf30"/>
<rect x="414.5" y="8" width="4" height="1" fill="#fff"/><rect x="422.5" y="8" width="4" height="1" fill="#fff"/><rect x="414.5" y="1" width="4" height="1" fill="#fff"/><rect x="422.5" y="1" width="4" height="1" fill="#fff"/>
<rect x="437" y="0" width="1" height="15" fill="#a0a0a0"/>
<rect x="443" y="0" width="24" height="15" fill="#f6f6f6"/>
<rect x="442" y="0" width="1" height="15" fill="#b0b0b0"/>
<rect x="450" y="0" width="1" height="13" fill="#3c3c3c"/>
<rect x="448" y="10" width="14" height="1" fill="#3c3c3c"/>
<polygon points="462,8.5 464,10.5 462,12.5" fill="#3c3c3c"/>
<polygon points="455,1 455,8 460.5,4.5" fill="#22b022"/>
<rect x="471" y="0" width="24" height="15" fill="#f6f6f6"/>
<rect x="470" y="0" width="1" height="15" fill="#b0b0b0"/>
<rect x="478" y="0" width="1" height="13" fill="#3c3c3c"/>
<rect x="476" y="10" width="14" height="1" fill="#3c3c3c"/>
<polygon points="490,8.5 492,10.5 490,12.5" fill="#3c3c3c"/>
<rect x="484" y="0" width="1" height="9" fill="#3a6fc8"/><polygon points="485.5,4 489,1.5 489,6.5" fill="#d03010"/><rect x="488" y="3.6" width="3" height="1" fill="#d03010"/>
<rect x="499" y="0" width="1" height="15" fill="#a0a0a0"/>
<path d="M511.5,-2 H520.5 V8.5 H511.5 Z" fill="#fff" stroke="#7a7a7a" stroke-width="1"/>
<path d="M517,2.6 H521.4 V6.1 H525 V10.3 H521.4 V14 H517 V10.3 H513.4 V6.1 H517 Z" fill="#2ce02c" stroke="#12a012" stroke-width="0.9"/>
<polygon points="531,3 536,3 533.5,6" fill="#000"/>
<circle cx="555" cy="4.8" r="6.9" fill="#e8f0fa" stroke="#2a62c0" stroke-width="2.2"/>
<path d="M555,0.5 V5.2 H558.5" fill="none" stroke="#555" stroke-width="1"/>
<polygon points="570,3 575,3 572.5,6" fill="#000"/>
<rect x="586.5" y="-2" width="15" height="13" fill="#fff" stroke="#3a78d8" stroke-width="1.4"/>
<path d="M588,2 l3,-1 l3,1 l3,-2 l3,0" fill="none" stroke="#c03010" stroke-width="1.1"/>
<rect x="587" y="4.2" width="14" height="1.2" fill="#3a78d8"/>
<path d="M588,9 l3,-1.5 l3,1 l3,-2 l3,1" fill="none" stroke="#20a020" stroke-width="1.1"/>
<polygon points="609,3 614,3 611.5,6" fill="#000"/>
<rect x="620" y="0" width="1" height="15" fill="#b8b8b8"/>
<rect x="623" y="1" width="3" height="1" fill="#b4b4b4"/>
<rect x="623" y="3" width="3" height="1" fill="#b4b4b4"/>
<rect x="623" y="5" width="3" height="1" fill="#b4b4b4"/>
<rect x="623" y="7" width="3" height="1" fill="#b4b4b4"/>
<rect x="623" y="9" width="3" height="1" fill="#b4b4b4"/>
<rect x="623" y="11" width="3" height="1" fill="#b4b4b4"/>
<rect x="623" y="13" width="3" height="1" fill="#b4b4b4"/>
<rect x="629" y="0" width="24" height="15" fill="#f6f6f6"/>
<path d="M637,-2 V9 L639.8,6.5 L642,11 L644,10 L641.8,5.8 L645.5,5.8 Z" fill="#333"/>
<rect x="670" y="0" width="1" height="13" fill="#444"/><rect x="663" y="4.5" width="15" height="1" fill="#444"/>
<rect x="687" y="0" width="1" height="15" fill="#a0a0a0"/>
<rect x="704" y="0" width="1" height="11" fill="#444"/>
<rect x="727" y="5" width="12" height="1" fill="#444"/>
<line x1="755" y1="11.5" x2="769" y2="-1" stroke="#444" stroke-width="1.1"/>
<path d="M782,9 L794,-1 M784,12 L796,2 M786,4 v6 M789,2 v6 M792,0 v6" fill="none" stroke="#444" stroke-width="1"/>
<text x="791.5" y="14" font-size="6.5" font-weight="bold" fill="#333">E</text>
<line x1="810" y1="1.5" x2="824" y2="1.5" stroke="#444" stroke-width="1" stroke-dasharray="1 1"/>
<line x1="810" y1="5.5" x2="824" y2="5.5" stroke="#444" stroke-width="1" stroke-dasharray="1 1"/>
<line x1="810" y1="9.5" x2="824" y2="9.5" stroke="#444" stroke-width="1" stroke-dasharray="1 1"/>
<text x="819.5" y="14" font-size="6.5" font-weight="bold" fill="#333">F</text>
<text x="839.8" y="9.5" font-size="12.5" fill="#555">A</text>
<rect x="867.5" y="1.5" width="11" height="10" fill="none" stroke="#666" stroke-width="1" stroke-dasharray="1 1"/>
<text x="869.6" y="10" font-size="10.5" fill="#555">T</text>
<path d="M895,2 l3,-3 l3,3 l-3,3 Z M904,8 l3,-3 l3,3 l-3,3 Z" fill="#333"/><path d="M898,4.5 l2.5,4 l3,-1.5" fill="none" stroke="#333" stroke-width="1.2"/>
<polygon points="915,3 920,3 917.5,6" fill="#000"/>
<rect x="926" y="0" width="1" height="16" fill="#b0b0b0"/>
<rect x="929" y="1" width="3" height="1" fill="#b4b4b4"/>
<rect x="929" y="3" width="3" height="1" fill="#b4b4b4"/>
<rect x="929" y="5" width="3" height="1" fill="#b4b4b4"/>
<rect x="929" y="7" width="3" height="1" fill="#b4b4b4"/>
<rect x="929" y="9" width="3" height="1" fill="#b4b4b4"/>
<rect x="929" y="11" width="3" height="1" fill="#b4b4b4"/>
<rect x="929" y="13" width="3" height="1" fill="#b4b4b4"/>
<rect x="1077" y="0" width="24" height="15" fill="#f8f8f8"/>
<rect x="1076" y="0" width="1" height="15" fill="#9a9a9a"/>
<text x="941.4" y="9" font-size="10.6" fill="#505050" textLength="13.0" lengthAdjust="spacingAndGlyphs">M1</text>
<text x="969.6" y="9" font-size="10.6" fill="#505050" textLength="13.0" lengthAdjust="spacingAndGlyphs">M5</text>
<text x="995.4" y="9" font-size="10.6" fill="#505050" textLength="18.0" lengthAdjust="spacingAndGlyphs">M15</text>
<text x="1023.4" y="9" font-size="10.6" fill="#505050" textLength="18.0" lengthAdjust="spacingAndGlyphs">M30</text>
<text x="1054.4" y="9" font-size="10.6" fill="#505050" textLength="12.2" lengthAdjust="spacingAndGlyphs">H1</text>
<text x="1081.6" y="9" font-size="10.6" fill="#505050" textLength="12.4" lengthAdjust="spacingAndGlyphs">H4</text>
<text x="1110.4" y="9" font-size="10.6" fill="#505050" textLength="12.4" lengthAdjust="spacingAndGlyphs">D1</text>
<text x="1138" y="9" font-size="10.6" fill="#505050" textLength="15.0" lengthAdjust="spacingAndGlyphs">W1</text>
<text x="1165" y="9" font-size="10.6" fill="#505050" textLength="15.0" lengthAdjust="spacingAndGlyphs">MN</text>
<rect x="1187" y="0" width="1" height="16" fill="#a8a8a8"/>
<circle cx="1658" cy="2" r="3.6" fill="#f4f8ff" stroke="#2a60c8" stroke-width="1.5"/>
<line x1="1655.5" y1="5" x2="1650.5" y2="10" stroke="#2a60c8" stroke-width="2" stroke-linecap="round"/>
<path d="M1675,6 a5,4 0 0 1 10,-1 a5,4 0 0 1 -5,6 l-3,2.5 l0.5,-2.8 a5,4 0 0 1 -2.5,-4.7 Z" fill="#e4e8f2" stroke="#9aa0ac" stroke-width="0.8"/>
<circle cx="1688.5" cy="1.5" r="8.3" fill="#d83020"/>
<text x="1685.8" y="6.5" font-size="12" fill="#fff" style="font-family:&quot;Liberation Serif&quot;,serif">1</text>
</svg>
</body></html>
